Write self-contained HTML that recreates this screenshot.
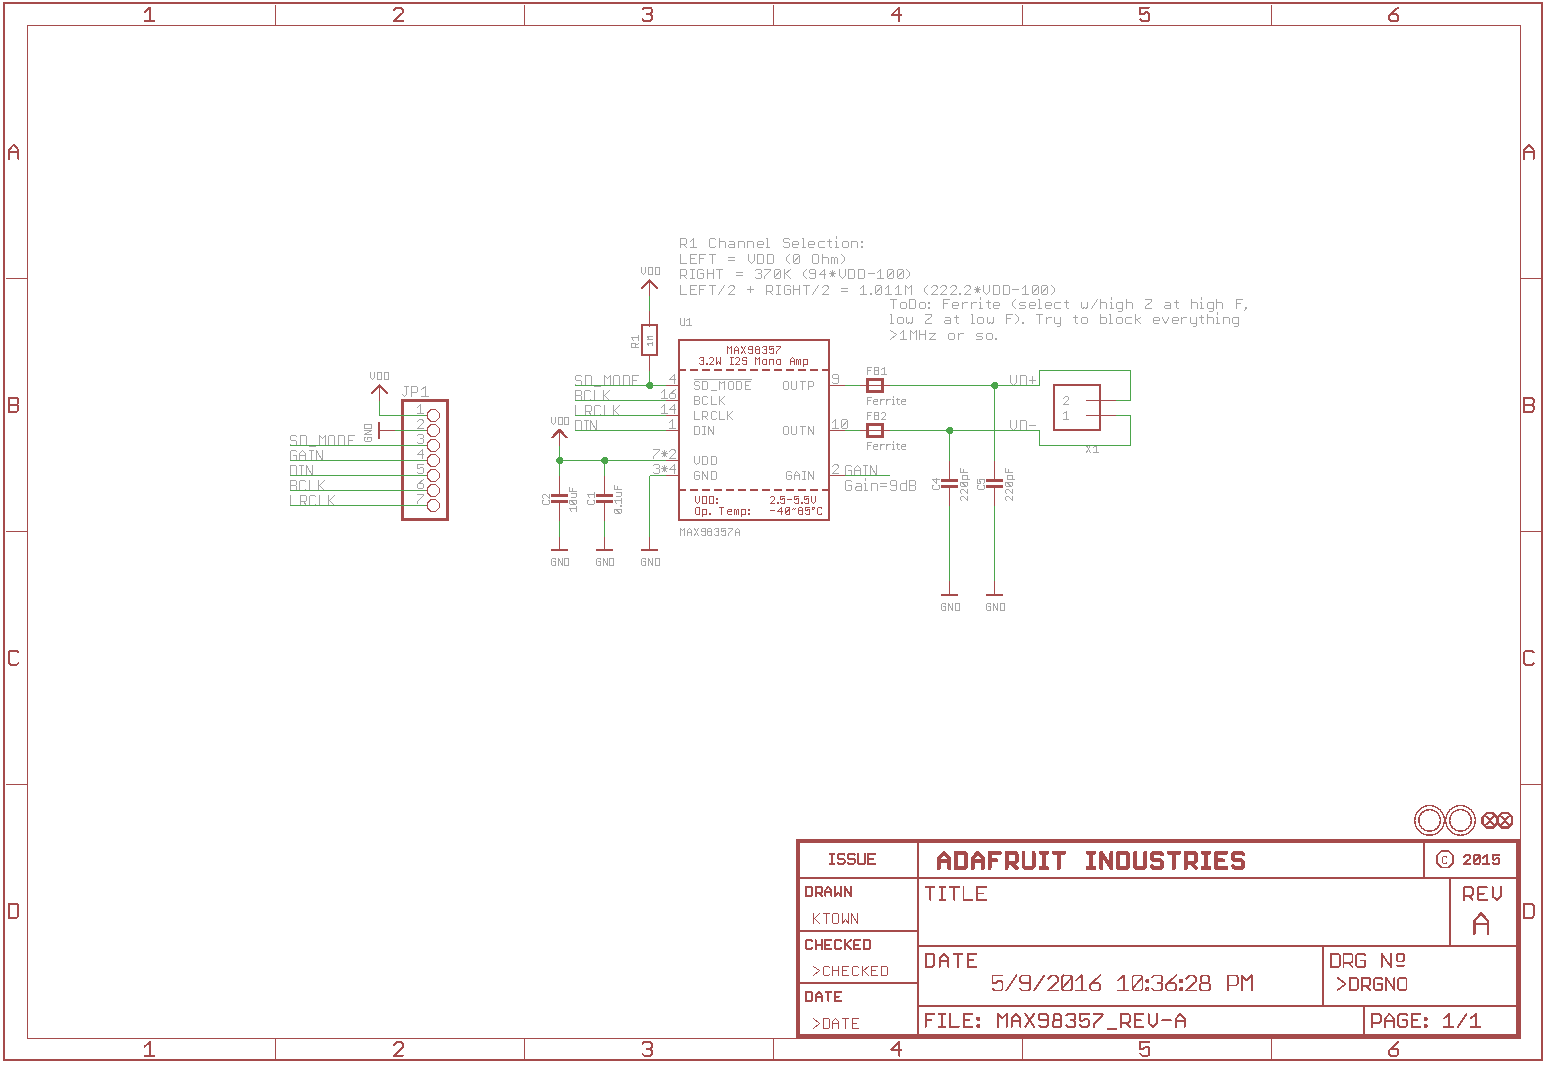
<!DOCTYPE html>
<html><head><meta charset="utf-8"><style>
html,body{margin:0;padding:0;background:#fff;}
body{width:1545px;height:1065px;overflow:hidden;font-family:"Liberation Sans",sans-serif;}
svg{display:block;}
</style></head><body>
<svg width="1545" height="1065" viewBox="0 0 1545 1065" shape-rendering="crispEdges">
<rect x="0" y="0" width="1545" height="1065" fill="#fff"/>
<path d="M144.72 12 L149.97 7.5 L149.97 21 M144.72 21 L154.17 21" stroke="#a54b4b" stroke-width="2" fill="none" stroke-linecap="round" stroke-linejoin="round"/>
<path d="M144.72 1046.57 L150.04 1042 L150.04 1055.7 M144.72 1055.7 L154.31 1055.7" stroke="#a54b4b" stroke-width="2" fill="none" stroke-linecap="round" stroke-linejoin="round"/>
<path d="M393.8 10.5 L396.8 7.5 L400.55 7.5 L402.8 9.75 L402.8 12.75 L393.8 21 L402.8 21" stroke="#a54b4b" stroke-width="2" fill="none" stroke-linecap="round" stroke-linejoin="round"/>
<path d="M393.8 1045.04 L396.84 1042 L400.65 1042 L402.93 1044.28 L402.93 1047.33 L393.8 1055.7 L402.93 1055.7" stroke="#a54b4b" stroke-width="2" fill="none" stroke-linecap="round" stroke-linejoin="round"/>
<path d="M642.63 9 L644.13 7.5 L650.13 7.5 L651.63 9 L651.63 12.75 L650.13 14.25 L651.63 15.75 L651.63 19.5 L650.13 21 L644.13 21 L642.63 19.5 M650.13 14.25 L647.13 14.25" stroke="#a54b4b" stroke-width="2" fill="none" stroke-linecap="round" stroke-linejoin="round"/>
<path d="M642.63 1043.52 L644.16 1042 L650.24 1042 L651.77 1043.52 L651.77 1047.33 L650.24 1048.85 L651.77 1050.37 L651.77 1054.18 L650.24 1055.7 L644.16 1055.7 L642.63 1054.18 M650.24 1048.85 L647.2 1048.85" stroke="#a54b4b" stroke-width="2" fill="none" stroke-linecap="round" stroke-linejoin="round"/>
<path d="M898.97 21 L898.97 7.5 L891.47 15 L901.22 15" stroke="#a54b4b" stroke-width="2" fill="none" stroke-linecap="round" stroke-linejoin="round"/>
<path d="M899.08 1055.7 L899.08 1042 L891.47 1049.61 L901.36 1049.61" stroke="#a54b4b" stroke-width="2" fill="none" stroke-linecap="round" stroke-linejoin="round"/>
<path d="M1149.3 7.5 L1140.3 7.5 L1140.3 14.4 L1143.3 14.4 L1145.55 12.3 L1147.5 12.3 L1149.3 14.1 L1149.3 19.5 L1147.8 21 L1142.1 21 L1140.3 19.2" stroke="#a54b4b" stroke-width="2" fill="none" stroke-linecap="round" stroke-linejoin="round"/>
<path d="M1149.43 1042 L1140.3 1042 L1140.3 1049 L1143.34 1049 L1145.63 1046.87 L1147.61 1046.87 L1149.43 1048.7 L1149.43 1054.18 L1147.91 1055.7 L1142.13 1055.7 L1140.3 1053.87" stroke="#a54b4b" stroke-width="2" fill="none" stroke-linecap="round" stroke-linejoin="round"/>
<path d="M1398.13 7.5 L1390.63 14.25 L1389.13 15.75 L1389.13 19.5 L1390.63 21 L1396.63 21 L1398.13 19.5 L1398.13 15.75 L1396.63 14.25 L1390.63 14.25" stroke="#a54b4b" stroke-width="2" fill="none" stroke-linecap="round" stroke-linejoin="round"/>
<path d="M1398.27 1042 L1390.66 1048.85 L1389.13 1050.37 L1389.13 1054.18 L1390.66 1055.7 L1396.74 1055.7 L1398.27 1054.18 L1398.27 1050.37 L1396.74 1048.85 L1390.66 1048.85" stroke="#a54b4b" stroke-width="2" fill="none" stroke-linecap="round" stroke-linejoin="round"/>
<path d="M9 158.8 L9 149.78 L13.67 144.8 L18.33 149.78 L18.33 158.8 M9 152.27 L18.33 152.27" stroke="#a54b4b" stroke-width="2" fill="none" stroke-linecap="round" stroke-linejoin="round"/>
<path d="M1524.2 158.8 L1524.2 149.78 L1528.87 144.8 L1533.53 149.78 L1533.53 158.8 M1524.2 152.27 L1533.53 152.27" stroke="#a54b4b" stroke-width="2" fill="none" stroke-linecap="round" stroke-linejoin="round"/>
<path d="M9 404.8 L16.78 404.8 L18.33 403.24 L18.33 399.36 L16.78 397.8 L9 397.8 L9 411.8 L16.78 411.8 L18.33 410.24 L18.33 406.36 L16.78 404.8" stroke="#a54b4b" stroke-width="2" fill="none" stroke-linecap="round" stroke-linejoin="round"/>
<path d="M1524.2 404.8 L1531.98 404.8 L1533.53 403.24 L1533.53 399.36 L1531.98 397.8 L1524.2 397.8 L1524.2 411.8 L1531.98 411.8 L1533.53 410.24 L1533.53 406.36 L1531.98 404.8" stroke="#a54b4b" stroke-width="2" fill="none" stroke-linecap="round" stroke-linejoin="round"/>
<path d="M18.33 652.36 L16.78 650.8 L10.56 650.8 L9 652.36 L9 663.24 L10.56 664.8 L16.78 664.8 L18.33 663.24" stroke="#a54b4b" stroke-width="2" fill="none" stroke-linecap="round" stroke-linejoin="round"/>
<path d="M1533.53 652.36 L1531.98 650.8 L1525.76 650.8 L1524.2 652.36 L1524.2 663.24 L1525.76 664.8 L1531.98 664.8 L1533.53 663.24" stroke="#a54b4b" stroke-width="2" fill="none" stroke-linecap="round" stroke-linejoin="round"/>
<path d="M9 903.8 L16.78 903.8 L18.33 905.36 L18.33 916.24 L16.78 917.8 L9 917.8 L9 903.8" stroke="#a54b4b" stroke-width="2" fill="none" stroke-linecap="round" stroke-linejoin="round"/>
<path d="M1524.2 903.8 L1531.98 903.8 L1533.53 905.36 L1533.53 916.24 L1531.98 917.8 L1524.2 917.8 L1524.2 903.8" stroke="#a54b4b" stroke-width="2" fill="none" stroke-linecap="round" stroke-linejoin="round"/>
<path d="M829.9 853.8 L834.39 853.8 M832.14 853.8 L832.14 863.9 M829.9 863.9 L834.39 863.9 M844.54 854.92 L843.42 853.8 L838.93 853.8 L837.81 854.92 L837.81 857.73 L838.93 858.85 L843.42 858.85 L844.54 859.97 L844.54 862.78 L843.42 863.9 L838.93 863.9 L837.81 862.78 M854.69 854.92 L853.57 853.8 L849.08 853.8 L847.96 854.92 L847.96 857.73 L849.08 858.85 L853.57 858.85 L854.69 859.97 L854.69 862.78 L853.57 863.9 L849.08 863.9 L847.96 862.78 M858.11 853.8 L858.11 862.78 L859.24 863.9 L863.73 863.9 L864.85 862.78 L864.85 853.8 M875 853.8 L868.27 853.8 L868.27 863.9 L875 863.9 M868.27 858.85 L872.76 858.85" stroke="#a54b4b" stroke-width="2" fill="none" stroke-linecap="round" stroke-linejoin="round"/>
<path d="M938.95 868.05 L938.95 858.22 L944.03 852.8 L949.12 858.22 L949.12 868.05 M938.95 860.93 L949.12 860.93 M955.86 852.8 L964.33 852.8 L966.02 854.49 L966.02 866.36 L964.33 868.05 L955.86 868.05 L955.86 852.8 M972.76 868.05 L972.76 858.22 L977.84 852.8 L982.93 858.22 L982.93 868.05 M972.76 860.93 L982.93 860.93 M999.83 852.8 L989.67 852.8 L989.67 868.05 M989.67 860.42 L996.44 860.42 M1006.57 868.05 L1006.57 852.8 L1015.04 852.8 L1016.74 854.49 L1016.74 861.27 L1015.04 862.97 L1006.57 862.97 M1011.66 862.97 L1016.74 868.05 M1023.48 852.8 L1023.48 866.36 L1025.17 868.05 L1031.95 868.05 L1033.64 866.36 L1033.64 852.8 M1040.38 852.8 L1047.16 852.8 M1043.77 852.8 L1043.77 868.05 M1040.38 868.05 L1047.16 868.05 M1053.9 852.8 L1064.07 852.8 M1058.98 852.8 L1058.98 868.05 M1087.71 852.8 L1094.49 852.8 M1091.1 852.8 L1091.1 868.05 M1087.71 868.05 L1094.49 868.05 M1101.23 868.05 L1101.23 852.8 L1111.39 868.05 L1111.39 852.8 M1118.13 852.8 L1126.61 852.8 L1128.3 854.49 L1128.3 866.36 L1126.61 868.05 L1118.13 868.05 L1118.13 852.8 M1135.04 852.8 L1135.04 866.36 L1136.73 868.05 L1143.51 868.05 L1145.21 866.36 L1145.21 852.8 M1162.11 854.49 L1160.42 852.8 L1153.64 852.8 L1151.94 854.49 L1151.94 858.73 L1153.64 860.42 L1160.42 860.42 L1162.11 862.12 L1162.11 866.36 L1160.42 868.05 L1153.64 868.05 L1151.94 866.36 M1168.85 852.8 L1179.02 852.8 M1173.93 852.8 L1173.93 868.05 M1185.76 868.05 L1185.76 852.8 L1194.23 852.8 L1195.92 854.49 L1195.92 861.27 L1194.23 862.97 L1185.76 862.97 M1190.84 862.97 L1195.92 868.05 M1202.66 852.8 L1209.44 852.8 M1206.05 852.8 L1206.05 868.05 M1202.66 868.05 L1209.44 868.05 M1226.34 852.8 L1216.18 852.8 L1216.18 868.05 L1226.34 868.05 M1216.18 860.42 L1222.96 860.42 M1243.25 854.49 L1241.56 852.8 L1234.78 852.8 L1233.08 854.49 L1233.08 858.73 L1234.78 860.42 L1241.56 860.42 L1243.25 862.12 L1243.25 866.36 L1241.56 868.05 L1234.78 868.05 L1233.08 866.36" stroke="#a54b4b" stroke-width="3.9" fill="none" stroke-linecap="round" stroke-linejoin="round"/>
<path d="M1446.5 857.5 L1446.5 856.5 L1443.5 856.5 L1442.5 857.5 L1442.5 862.5 L1443.5 863.5 L1446.5 863.5 L1446.5 862.5" stroke="#a54b4b" stroke-width="1" fill="none" stroke-linecap="square" stroke-linejoin="miter" stroke-miterlimit="2"/>
<path d="M1464 856.92 L1466.02 854.9 L1468.55 854.9 L1470.07 856.42 L1470.07 858.44 L1464 864 L1470.07 864 M1474.55 854.9 L1478.6 854.9 L1479.61 855.91 L1479.61 862.99 L1478.6 864 L1474.55 864 L1473.54 862.99 L1473.54 855.91 L1474.55 854.9 M1473.54 862.99 L1479.61 855.91 M1483.09 857.93 L1486.63 854.9 L1486.63 864 M1483.09 864 L1489.46 864 M1499 854.9 L1492.93 854.9 L1492.93 859.55 L1494.96 859.55 L1496.47 858.14 L1497.79 858.14 L1499 859.35 L1499 862.99 L1497.99 864 L1494.15 864 L1492.93 862.79" stroke="#a54b4b" stroke-width="2" fill="none" stroke-linecap="round" stroke-linejoin="round"/>
<path d="M806 886.9 L811.06 886.9 L812.07 887.91 L812.07 894.99 L811.06 896 L806 896 L806 886.9 M815.68 896 L815.68 886.9 L820.74 886.9 L821.75 887.91 L821.75 891.96 L820.74 892.97 L815.68 892.97 M818.72 892.97 L821.75 896 M825.37 896 L825.37 890.14 L828.4 886.9 L831.43 890.14 L831.43 896 M825.37 891.75 L831.43 891.75 M835.05 886.9 L835.05 896 L838.08 892.46 L841.12 896 L841.12 886.9 M844.73 896 L844.73 886.9 L850.8 896 L850.8 886.9" stroke="#a54b4b" stroke-width="2" fill="none" stroke-linecap="round" stroke-linejoin="round"/>
<path d="M813.5 913.5 L813.5 923.5 M819.5 913.5 L813.5 919.5 M814.5 918.5 L819.5 923.5 M823.5 913.5 L829.5 913.5 M826.5 913.5 L826.5 923.5 M833.5 913.5 L837.5 913.5 L838.5 914.5 L838.5 922.5 L837.5 923.5 L833.5 923.5 L832.5 922.5 L832.5 914.5 L833.5 913.5 M842.5 913.5 L842.5 923.5 L845.5 919.5 L848.5 923.5 L848.5 913.5 M851.5 923.5 L851.5 913.5 L857.5 923.5 L857.5 913.5" stroke="#a54b4b" stroke-width="1" fill="none" stroke-linecap="square" stroke-linejoin="miter" stroke-miterlimit="2"/>
<path d="M812.07 941.01 L811.06 940 L807.01 940 L806 941.01 L806 948.09 L807.01 949.1 L811.06 949.1 L812.07 948.09 M815.67 940 L815.67 949.1 M821.74 940 L821.74 949.1 M815.67 944.55 L821.74 944.55 M831.41 940 L825.34 940 L825.34 949.1 L831.41 949.1 M825.34 944.55 L829.39 944.55 M841.08 941.01 L840.07 940 L836.03 940 L835.02 941.01 L835.02 948.09 L836.03 949.1 L840.07 949.1 L841.08 948.09 M844.69 940 L844.69 949.1 M850.76 940 L844.69 945.56 M846.21 944.55 L850.76 949.1 M860.43 940 L854.36 940 L854.36 949.1 L860.43 949.1 M854.36 944.55 L858.41 944.55 M864.03 940 L869.09 940 L870.1 941.01 L870.1 948.09 L869.09 949.1 L864.03 949.1 L864.03 940" stroke="#a54b4b" stroke-width="2" fill="none" stroke-linecap="round" stroke-linejoin="round"/>
<path d="M813.5 966.5 L819.5 970.5 L813.5 975.5 M829.5 967.5 L828.5 966.5 L824.5 966.5 L823.5 967.5 L823.5 974.5 L824.5 975.5 L828.5 975.5 L829.5 974.5 M832.5 966.5 L832.5 975.5 M838.5 966.5 L838.5 975.5 M832.5 970.5 L838.5 970.5 M848.5 966.5 L842.5 966.5 L842.5 975.5 L848.5 975.5 M842.5 970.5 L846.5 970.5 M858.5 967.5 L857.5 966.5 L853.5 966.5 L852.5 967.5 L852.5 974.5 L853.5 975.5 L857.5 975.5 L858.5 974.5 M862.5 966.5 L862.5 975.5 M868.5 966.5 L862.5 971.5 M863.5 970.5 L868.5 975.5 M877.5 966.5 L871.5 966.5 L871.5 975.5 L877.5 975.5 M871.5 970.5 L875.5 970.5 M881.5 966.5 L886.5 966.5 L887.5 967.5 L887.5 974.5 L886.5 975.5 L881.5 975.5 L881.5 966.5" stroke="#a54b4b" stroke-width="1" fill="none" stroke-linecap="square" stroke-linejoin="miter" stroke-miterlimit="2"/>
<path d="M806 992 L811.06 992 L812.07 993.01 L812.07 1000.09 L811.06 1001.1 L806 1001.1 L806 992 M815.71 1001.1 L815.71 995.24 L818.74 992 L821.78 995.24 L821.78 1001.1 M815.71 996.85 L821.78 996.85 M825.42 992 L831.49 992 M828.46 992 L828.46 1001.1 M841.2 992 L835.13 992 L835.13 1001.1 L841.2 1001.1 M835.13 996.55 L839.18 996.55" stroke="#a54b4b" stroke-width="2" fill="none" stroke-linecap="round" stroke-linejoin="round"/>
<path d="M813.5 1018.5 L819.5 1023.5 L813.5 1028.5 M823.5 1018.5 L828.5 1018.5 L829.5 1019.5 L829.5 1027.5 L828.5 1028.5 L823.5 1028.5 L823.5 1018.5 M832.5 1028.5 L832.5 1021.5 L835.5 1018.5 L838.5 1021.5 L838.5 1028.5 M832.5 1023.5 L838.5 1023.5 M842.5 1018.5 L848.5 1018.5 M845.5 1018.5 L845.5 1028.5 M858.5 1018.5 L852.5 1018.5 L852.5 1028.5 L858.5 1028.5 M852.5 1023.5 L856.5 1023.5" stroke="#a54b4b" stroke-width="1" fill="none" stroke-linecap="square" stroke-linejoin="miter" stroke-miterlimit="2"/>
<path d="M925.95 886.95 L934.68 886.95 M930.32 886.95 L930.32 900.05 M939.44 886.95 L945.27 886.95 M942.36 886.95 L942.36 900.05 M939.44 900.05 L945.27 900.05 M950.03 886.95 L958.76 886.95 M954.39 886.95 L954.39 900.05 M963.52 886.95 L963.52 900.05 L972.26 900.05 M985.75 886.95 L977.02 886.95 L977.02 900.05 L985.75 900.05 M977.02 893.5 L982.84 893.5" stroke="#a54b4b" stroke-width="1.9" fill="none" stroke-linecap="round" stroke-linejoin="round"/>
<path d="M1464.2 899.9 L1464.2 887.3 L1471.2 887.3 L1472.6 888.7 L1472.6 894.3 L1471.2 895.7 L1464.2 895.7 M1468.4 895.7 L1472.6 899.9 M1486.85 887.3 L1478.45 887.3 L1478.45 899.9 L1486.85 899.9 M1478.45 893.6 L1484.05 893.6 M1492.7 887.3 L1492.7 896.4 L1496.9 899.9 L1501.1 896.4 L1501.1 887.3" stroke="#a54b4b" stroke-width="2" fill="none" stroke-linecap="round" stroke-linejoin="round"/>
<path d="M1474.35 933.65 L1474.35 920.63 L1481.08 913.45 L1487.82 920.63 L1487.82 933.65 M1474.35 924.22 L1487.82 924.22" stroke="#a54b4b" stroke-width="2.3" fill="none" stroke-linecap="round" stroke-linejoin="round"/>
<path d="M925.5 953.9 L932.61 953.9 L934.03 955.32 L934.03 965.28 L932.61 966.7 L925.5 966.7 L925.5 953.9 M939.59 966.7 L939.59 958.45 L943.86 953.9 L948.12 958.45 L948.12 966.7 M939.59 960.73 L948.12 960.73 M953.68 953.9 L962.21 953.9 M957.94 953.9 L957.94 966.7 M976.3 953.9 L967.77 953.9 L967.77 966.7 L976.3 966.7 M967.77 960.3 L973.46 960.3" stroke="#a54b4b" stroke-width="2" fill="none" stroke-linecap="round" stroke-linejoin="round"/>
<path d="M1002.57 975.4 L992.5 975.4 L992.5 983.12 L995.86 983.12 L998.37 980.77 L1000.55 980.77 L1002.57 982.78 L1002.57 988.82 L1000.89 990.5 L994.51 990.5 L992.5 988.49 M1006.39 990.5 L1016.46 975.4 M1030.35 982.95 L1021.96 982.95 L1020.28 981.27 L1020.28 977.08 L1021.96 975.4 L1028.67 975.4 L1030.35 977.08 L1030.35 988.82 L1028.67 990.5 L1021.96 990.5 L1020.28 988.82 M1034.17 990.5 L1044.23 975.4 M1048.06 978.76 L1051.41 975.4 L1055.61 975.4 L1058.12 977.92 L1058.12 981.27 L1048.06 990.5 L1058.12 990.5 M1063.62 975.4 L1070.34 975.4 L1072.01 977.08 L1072.01 988.82 L1070.34 990.5 L1063.62 990.5 L1061.95 988.82 L1061.95 977.08 L1063.62 975.4 M1061.95 988.82 L1072.01 977.08 M1075.84 980.43 L1081.71 975.4 L1081.71 990.5 M1075.84 990.5 L1086.41 990.5 M1100.3 975.4 L1091.91 982.95 L1090.23 984.63 L1090.23 988.82 L1091.91 990.5 L1098.62 990.5 L1100.3 988.82 L1100.3 984.63 L1098.62 982.95 L1091.91 982.95 M1118.01 980.43 L1123.88 975.4 L1123.88 990.5 M1118.01 990.5 L1128.58 990.5 M1134.08 975.4 L1140.79 975.4 L1142.47 977.08 L1142.47 988.82 L1140.79 990.5 L1134.08 990.5 L1132.4 988.82 L1132.4 977.08 L1134.08 975.4 M1132.4 988.82 L1142.47 977.08 M1146.29 979.93 L1148.47 979.93 L1148.47 982.11 L1146.29 982.11 L1146.29 979.93 M1146.29 988.32 L1148.47 988.32 L1148.47 990.5 L1146.29 990.5 L1146.29 988.32 M1152.29 977.08 L1153.97 975.4 L1160.68 975.4 L1162.36 977.08 L1162.36 981.27 L1160.68 982.95 L1162.36 984.63 L1162.36 988.82 L1160.68 990.5 L1153.97 990.5 L1152.29 988.82 M1160.68 982.95 L1157.33 982.95 M1176.25 975.4 L1167.86 982.95 L1166.18 984.63 L1166.18 988.82 L1167.86 990.5 L1174.57 990.5 L1176.25 988.82 L1176.25 984.63 L1174.57 982.95 L1167.86 982.95 M1180.07 979.93 L1182.25 979.93 L1182.25 982.11 L1180.07 982.11 L1180.07 979.93 M1180.07 988.32 L1182.25 988.32 L1182.25 990.5 L1180.07 990.5 L1180.07 988.32 M1186.08 978.76 L1189.43 975.4 L1193.63 975.4 L1196.14 977.92 L1196.14 981.27 L1186.08 990.5 L1196.14 990.5 M1202.48 982.95 L1200.8 981.27 L1200.8 977.08 L1202.48 975.4 L1207.52 975.4 L1209.19 977.08 L1209.19 981.27 L1207.52 982.95 L1201.64 982.95 L1199.97 984.63 L1199.97 988.82 L1201.64 990.5 L1208.35 990.5 L1210.03 988.82 L1210.03 984.63 L1208.35 982.95 L1207.52 982.95 M1227.74 990.5 L1227.74 975.4 L1236.13 975.4 L1237.81 977.08 L1237.81 983.79 L1236.13 985.47 L1227.74 985.47 M1241.63 990.5 L1241.63 975.4 L1246.67 980.43 L1251.7 975.4 L1251.7 990.5" stroke="#a54b4b" stroke-width="1.8" fill="none" stroke-linecap="round" stroke-linejoin="round"/>
<path d="M1330.88 953.77 L1338.35 953.77 L1339.84 955.27 L1339.84 965.73 L1338.35 967.23 L1330.88 967.23 L1330.88 953.77 M1343.58 967.23 L1343.58 953.77 L1351.06 953.77 L1352.55 955.27 L1352.55 961.25 L1351.06 962.74 L1343.58 962.74 M1348.07 962.74 L1352.55 967.23 M1365.26 955.27 L1363.76 953.77 L1357.79 953.77 L1356.29 955.27 L1356.29 965.73 L1357.79 967.23 L1363.76 967.23 L1365.26 965.73 L1365.26 960.5 L1360.77 960.5 M1381.71 967.23 L1381.71 953.77 L1391.12 967.23 L1391.12 953.77 M1398.15 953.77 L1402.63 953.77 L1404.12 955.27 L1404.12 960.05 L1402.63 961.55 L1398.15 961.55 L1396.65 960.05 L1396.65 955.27 L1398.15 953.77 M1396.95 965.73 L1404.12 965.73" stroke="#a54b4b" stroke-width="1.75" fill="none" stroke-linecap="round" stroke-linejoin="round"/>
<path d="M1337.58 977.88 L1345.74 984 L1337.58 990.12 M1349.73 977.88 L1356.54 977.88 L1357.9 979.24 L1357.9 988.76 L1356.54 990.12 L1349.73 990.12 L1349.73 977.88 M1361.89 990.12 L1361.89 977.88 L1368.69 977.88 L1370.06 979.24 L1370.06 984.68 L1368.69 986.04 L1361.89 986.04 M1365.97 986.04 L1370.06 990.12 M1382.21 979.24 L1380.85 977.88 L1375.41 977.88 L1374.05 979.24 L1374.05 988.76 L1375.41 990.12 L1380.85 990.12 L1382.21 988.76 L1382.21 984 L1378.13 984 M1386.2 990.12 L1386.2 977.88 L1394.37 990.12 L1394.37 977.88 M1399.72 977.88 L1405.16 977.88 L1406.53 979.24 L1406.53 988.76 L1405.16 990.12 L1399.72 990.12 L1398.36 988.76 L1398.36 979.24 L1399.72 977.88" stroke="#a54b4b" stroke-width="1.75" fill="none" stroke-linecap="round" stroke-linejoin="round"/>
<path d="M934.17 1013.9 L925.5 1013.9 L925.5 1026.9 M925.5 1020.4 L931.28 1020.4 M939.2 1013.9 L944.97 1013.9 M942.08 1013.9 L942.08 1026.9 M939.2 1026.9 L944.97 1026.9 M950 1013.9 L950 1026.9 L958.67 1026.9 M972.36 1013.9 L963.7 1013.9 L963.7 1026.9 L972.36 1026.9 M963.7 1020.4 L969.47 1020.4 M977.39 1017.8 L979.27 1017.8 L979.27 1019.68 L977.39 1019.68 L977.39 1017.8 M977.39 1025.02 L979.27 1025.02 L979.27 1026.9 L977.39 1026.9 L977.39 1025.02 M997.99 1026.9 L997.99 1013.9 L1002.33 1018.23 L1006.66 1013.9 L1006.66 1026.9 M1011.69 1026.9 L1011.69 1018.52 L1016.02 1013.9 L1020.36 1018.52 L1020.36 1026.9 M1011.69 1020.83 L1020.36 1020.83 M1025.38 1013.9 L1034.05 1026.9 M1034.05 1013.9 L1025.38 1026.9 M1047.75 1020.4 L1040.52 1020.4 L1039.08 1018.96 L1039.08 1015.34 L1040.52 1013.9 L1046.3 1013.9 L1047.75 1015.34 L1047.75 1025.46 L1046.3 1026.9 L1040.52 1026.9 L1039.08 1025.46 M1054.94 1020.4 L1053.5 1018.96 L1053.5 1015.34 L1054.94 1013.9 L1059.28 1013.9 L1060.72 1015.34 L1060.72 1018.96 L1059.28 1020.4 L1054.22 1020.4 L1052.78 1021.84 L1052.78 1025.46 L1054.22 1026.9 L1060 1026.9 L1061.44 1025.46 L1061.44 1021.84 L1060 1020.4 L1059.28 1020.4 M1066.47 1015.34 L1067.92 1013.9 L1073.69 1013.9 L1075.14 1015.34 L1075.14 1018.96 L1073.69 1020.4 L1075.14 1021.84 L1075.14 1025.46 L1073.69 1026.9 L1067.92 1026.9 L1066.47 1025.46 M1073.69 1020.4 L1070.8 1020.4 M1088.83 1013.9 L1080.17 1013.9 L1080.17 1020.54 L1083.05 1020.54 L1085.22 1018.52 L1087.1 1018.52 L1088.83 1020.26 L1088.83 1025.46 L1087.39 1026.9 L1081.9 1026.9 L1080.17 1025.17 M1093.86 1013.9 L1102.53 1013.9 L1102.53 1015.34 L1093.86 1024.01 L1093.86 1026.9 M1107.56 1029.07 L1116.22 1029.07 M1121.25 1026.9 L1121.25 1013.9 L1128.47 1013.9 L1129.92 1015.34 L1129.92 1021.12 L1128.47 1022.57 L1121.25 1022.57 M1125.59 1022.57 L1129.92 1026.9 M1143.61 1013.9 L1134.95 1013.9 L1134.95 1026.9 L1143.61 1026.9 M1134.95 1020.4 L1140.73 1020.4 M1148.64 1013.9 L1148.64 1023.29 L1152.98 1026.9 L1157.31 1023.29 L1157.31 1013.9 M1162.34 1020.4 L1171 1020.4 M1176.03 1026.9 L1176.03 1018.52 L1180.37 1013.9 L1184.7 1018.52 L1184.7 1026.9 M1176.03 1020.83 L1184.7 1020.83" stroke="#a54b4b" stroke-width="2" fill="none" stroke-linecap="round" stroke-linejoin="round"/>
<path d="M1372 1026.9 L1372 1013.9 L1379.22 1013.9 L1380.67 1015.34 L1380.67 1021.12 L1379.22 1022.57 L1372 1022.57 M1385.17 1026.9 L1385.17 1018.52 L1389.5 1013.9 L1393.84 1018.52 L1393.84 1026.9 M1385.17 1020.83 L1393.84 1020.83 M1407.01 1015.34 L1405.56 1013.9 L1399.78 1013.9 L1398.34 1015.34 L1398.34 1025.46 L1399.78 1026.9 L1405.56 1026.9 L1407.01 1025.46 L1407.01 1020.4 L1402.67 1020.4 M1420.17 1013.9 L1411.51 1013.9 L1411.51 1026.9 L1420.17 1026.9 M1411.51 1020.4 L1417.29 1020.4 M1424.68 1017.8 L1426.56 1017.8 L1426.56 1019.68 L1424.68 1019.68 L1424.68 1017.8 M1424.68 1025.02 L1426.56 1025.02 L1426.56 1026.9 L1424.68 1026.9 L1424.68 1025.02 M1444.23 1018.23 L1449.28 1013.9 L1449.28 1026.9 M1444.23 1026.9 L1453.33 1026.9 M1457.83 1026.9 L1466.5 1013.9 M1471 1018.23 L1476.06 1013.9 L1476.06 1026.9 M1471 1026.9 L1480.1 1026.9" stroke="#a54b4b" stroke-width="2" fill="none" stroke-linecap="round" stroke-linejoin="round"/>
<path d="M417.5 407.5 L420.5 404.5 L420.5 413.5 M417.5 413.5 L423.5 413.5" stroke="#a5a5a5" stroke-width="1" fill="none" stroke-linecap="square" stroke-linejoin="miter" stroke-miterlimit="2"/>
<path d="M417.5 421.5 L419.5 419.5 L421.5 419.5 L423.5 420.5 L423.5 422.5 L417.5 428.5 L423.5 428.5" stroke="#a5a5a5" stroke-width="1" fill="none" stroke-linecap="square" stroke-linejoin="miter" stroke-miterlimit="2"/>
<path d="M417.5 435.5 L418.5 434.5 L422.5 434.5 L423.5 435.5 L423.5 437.5 L422.5 438.5 L423.5 439.5 L423.5 442.5 L422.5 443.5 L418.5 443.5 L417.5 442.5 M422.5 438.5 L420.5 438.5" stroke="#a5a5a5" stroke-width="1" fill="none" stroke-linecap="square" stroke-linejoin="miter" stroke-miterlimit="2"/>
<path d="M422.5 458.5 L422.5 449.5 L417.5 454.5 L423.5 454.5" stroke="#a5a5a5" stroke-width="1" fill="none" stroke-linecap="square" stroke-linejoin="miter" stroke-miterlimit="2"/>
<path d="M423.5 464.5 L417.5 464.5 L417.5 468.5 L419.5 468.5 L420.5 467.5 L422.5 467.5 L423.5 468.5 L423.5 472.5 L422.5 473.5 L418.5 473.5 L417.5 472.5" stroke="#a5a5a5" stroke-width="1" fill="none" stroke-linecap="square" stroke-linejoin="miter" stroke-miterlimit="2"/>
<path d="M423.5 479.5 L418.5 483.5 L417.5 484.5 L417.5 487.5 L418.5 488.5 L422.5 488.5 L423.5 487.5 L423.5 484.5 L422.5 483.5 L418.5 483.5" stroke="#a5a5a5" stroke-width="1" fill="none" stroke-linecap="square" stroke-linejoin="miter" stroke-miterlimit="2"/>
<path d="M417.5 494.5 L423.5 494.5 L423.5 495.5 L417.5 501.5 L417.5 503.5" stroke="#a5a5a5" stroke-width="1" fill="none" stroke-linecap="square" stroke-linejoin="miter" stroke-miterlimit="2"/>
<path d="M370.5 372.5 L370.5 377.5 L372.5 379.5 L374.5 377.5 L374.5 372.5 M377.5 372.5 L381.5 372.5 L381.5 373.5 L381.5 378.5 L381.5 379.5 L377.5 379.5 L377.5 372.5 M384.5 372.5 L388.5 372.5 L388.5 373.5 L388.5 378.5 L388.5 379.5 L384.5 379.5 L384.5 372.5" stroke="#a5a5a5" stroke-width="1" fill="none" stroke-linecap="square" stroke-linejoin="miter" stroke-miterlimit="2"/>
<path d="M365.5 437.5 L364.5 437.5 L364.5 440.5 L365.5 441.5 L370.5 441.5 L371.5 440.5 L371.5 437.5 L370.5 437.5 L367.5 437.5 L367.5 439.5 M371.5 434.5 L364.5 434.5 L371.5 430.5 L364.5 430.5 M364.5 428.5 L364.5 424.5 L365.5 424.5 L370.5 424.5 L371.5 424.5 L371.5 428.5 L364.5 428.5" stroke="#a5a5a5" stroke-width="1" fill="none" stroke-linecap="square" stroke-linejoin="miter" stroke-miterlimit="2"/>
<path d="M404.5 386.5 L408.5 386.5 M406.5 386.5 L406.5 394.5 L404.5 396.5 L402.5 394.5 M411.5 396.5 L411.5 386.5 L416.5 386.5 L417.5 387.5 L417.5 391.5 L416.5 392.5 L411.5 392.5 M421.5 389.5 L425.5 386.5 L425.5 396.5 M421.5 396.5 L428.5 396.5" stroke="#a5a5a5" stroke-width="1" fill="none" stroke-linecap="square" stroke-linejoin="miter" stroke-miterlimit="2"/>
<path d="M296.5 436.5 L295.5 435.5 L291.5 435.5 L290.5 436.5 L290.5 439.5 L291.5 440.5 L295.5 440.5 L296.5 441.5 L296.5 444.5 L295.5 445.5 L291.5 445.5 L290.5 444.5 M300.5 435.5 L305.5 435.5 L306.5 436.5 L306.5 444.5 L305.5 445.5 L300.5 445.5 L300.5 435.5 M309.5 446.5 L315.5 446.5 M319.5 445.5 L319.5 435.5 L322.5 438.5 L325.5 435.5 L325.5 445.5 M329.5 435.5 L333.5 435.5 L334.5 436.5 L334.5 444.5 L333.5 445.5 L329.5 445.5 L328.5 444.5 L328.5 436.5 L329.5 435.5 M338.5 435.5 L343.5 435.5 L344.5 436.5 L344.5 444.5 L343.5 445.5 L338.5 445.5 L338.5 435.5 M354.5 435.5 L348.5 435.5 L348.5 445.5 L354.5 445.5 M348.5 440.5 L352.5 440.5" stroke="#a5a5a5" stroke-width="1" fill="none" stroke-linecap="square" stroke-linejoin="miter" stroke-miterlimit="2"/>
<path d="M296.5 451.5 L295.5 450.5 L291.5 450.5 L290.5 451.5 L290.5 459.5 L291.5 460.5 L295.5 460.5 L296.5 459.5 L296.5 455.5 L293.5 455.5 M299.5 460.5 L299.5 453.5 L302.5 450.5 L305.5 453.5 L305.5 460.5 M299.5 455.5 L305.5 455.5 M309.5 450.5 L313.5 450.5 M311.5 450.5 L311.5 460.5 M309.5 460.5 L313.5 460.5 M316.5 460.5 L316.5 450.5 L322.5 460.5 L322.5 450.5" stroke="#a5a5a5" stroke-width="1" fill="none" stroke-linecap="square" stroke-linejoin="miter" stroke-miterlimit="2"/>
<path d="M290.5 465.5 L295.5 465.5 L296.5 466.5 L296.5 474.5 L295.5 475.5 L290.5 475.5 L290.5 465.5 M299.5 465.5 L303.5 465.5 M301.5 465.5 L301.5 475.5 M299.5 475.5 L303.5 475.5 M306.5 475.5 L306.5 465.5 L312.5 475.5 L312.5 465.5" stroke="#a5a5a5" stroke-width="1" fill="none" stroke-linecap="square" stroke-linejoin="miter" stroke-miterlimit="2"/>
<path d="M290.5 485.5 L295.5 485.5 L296.5 484.5 L296.5 481.5 L295.5 480.5 L290.5 480.5 L290.5 490.5 L295.5 490.5 L296.5 489.5 L296.5 486.5 L295.5 485.5 M305.5 481.5 L304.5 480.5 L300.5 480.5 L299.5 481.5 L299.5 489.5 L300.5 490.5 L304.5 490.5 L305.5 489.5 M309.5 480.5 L309.5 490.5 L315.5 490.5 M318.5 480.5 L318.5 490.5 M324.5 480.5 L318.5 486.5 M319.5 485.5 L324.5 490.5" stroke="#a5a5a5" stroke-width="1" fill="none" stroke-linecap="square" stroke-linejoin="miter" stroke-miterlimit="2"/>
<path d="M290.5 495.5 L290.5 505.5 L296.5 505.5 M300.5 505.5 L300.5 495.5 L305.5 495.5 L306.5 496.5 L306.5 500.5 L305.5 501.5 L300.5 501.5 M303.5 501.5 L306.5 505.5 M315.5 496.5 L314.5 495.5 L310.5 495.5 L309.5 496.5 L309.5 504.5 L310.5 505.5 L314.5 505.5 L315.5 504.5 M319.5 495.5 L319.5 505.5 L325.5 505.5 M328.5 495.5 L328.5 505.5 M334.5 495.5 L328.5 501.5 M329.5 500.5 L334.5 505.5" stroke="#a5a5a5" stroke-width="1" fill="none" stroke-linecap="square" stroke-linejoin="miter" stroke-miterlimit="2"/>
<path d="M680.5 318.5 L680.5 324.5 L681.5 325.5 L684.5 325.5 L684.5 324.5 L684.5 318.5 M686.5 320.5 L689.5 318.5 L689.5 325.5 M686.5 325.5 L691.5 325.5" stroke="#a5a5a5" stroke-width="1" fill="none" stroke-linecap="square" stroke-linejoin="miter" stroke-miterlimit="2"/>
<path d="M727.5 353.5 L727.5 346.5 L729.5 348.5 L731.5 346.5 L731.5 353.5 M734.5 353.5 L734.5 348.5 L736.5 346.5 L738.5 348.5 L738.5 353.5 M734.5 350.5 L738.5 350.5 M741.5 346.5 L745.5 353.5 M745.5 346.5 L741.5 353.5 M752.5 349.5 L749.5 349.5 L748.5 349.5 L748.5 347.5 L749.5 346.5 L752.5 346.5 L752.5 347.5 L752.5 352.5 L752.5 353.5 L749.5 353.5 L748.5 352.5 M756.5 349.5 L755.5 349.5 L755.5 347.5 L756.5 346.5 L758.5 346.5 L759.5 347.5 L759.5 349.5 L758.5 349.5 L756.5 349.5 L755.5 350.5 L755.5 352.5 L756.5 353.5 L759.5 353.5 L759.5 352.5 L759.5 350.5 L759.5 349.5 L758.5 349.5 M762.5 347.5 L763.5 346.5 L766.5 346.5 L766.5 347.5 L766.5 349.5 L766.5 349.5 L766.5 350.5 L766.5 352.5 L766.5 353.5 L763.5 353.5 L762.5 352.5 M766.5 349.5 L764.5 349.5 M773.5 346.5 L769.5 346.5 L769.5 349.5 L770.5 349.5 L772.5 348.5 L773.5 348.5 L773.5 349.5 L773.5 352.5 L773.5 353.5 L770.5 353.5 L769.5 352.5 M776.5 346.5 L780.5 346.5 L780.5 347.5 L776.5 351.5 L776.5 353.5" stroke="#a54b4b" stroke-width="1" fill="none" stroke-linecap="square" stroke-linejoin="miter" stroke-miterlimit="2"/>
<path d="M699.5 358.5 L700.5 357.5 L703.5 357.5 L703.5 358.5 L703.5 360.5 L703.5 360.5 L703.5 361.5 L703.5 363.5 L703.5 364.5 L700.5 364.5 L699.5 363.5 M703.5 360.5 L701.5 360.5 M706.5 363.5 L707.5 363.5 L707.5 364.5 L706.5 364.5 L706.5 363.5 M709.5 358.5 L710.5 357.5 L712.5 357.5 L713.5 358.5 L713.5 360.5 L709.5 364.5 L713.5 364.5 M716.5 357.5 L716.5 364.5 L718.5 361.5 L720.5 364.5 L720.5 357.5 M730.5 357.5 L733.5 357.5 M731.5 357.5 L731.5 364.5 M730.5 364.5 L733.5 364.5 M735.5 358.5 L736.5 357.5 L738.5 357.5 L739.5 358.5 L739.5 360.5 L735.5 364.5 L739.5 364.5 M746.5 358.5 L746.5 357.5 L743.5 357.5 L742.5 358.5 L742.5 360.5 L743.5 360.5 L746.5 360.5 L746.5 361.5 L746.5 363.5 L746.5 364.5 L743.5 364.5 L742.5 363.5 M755.5 364.5 L755.5 357.5 L757.5 359.5 L759.5 357.5 L759.5 364.5 M763.5 359.5 L766.5 359.5 L766.5 360.5 L766.5 363.5 L766.5 364.5 L763.5 364.5 L762.5 363.5 L762.5 360.5 L763.5 359.5 M769.5 359.5 L769.5 364.5 M769.5 359.5 L773.5 359.5 L773.5 360.5 L773.5 364.5 M777.5 359.5 L780.5 359.5 L780.5 360.5 L780.5 363.5 L780.5 364.5 L777.5 364.5 L776.5 363.5 L776.5 360.5 L777.5 359.5 M790.5 364.5 L790.5 359.5 L792.5 357.5 L794.5 359.5 L794.5 364.5 M790.5 361.5 L794.5 361.5 M796.5 364.5 L796.5 359.5 L797.5 359.5 L798.5 360.5 L798.5 364.5 M798.5 360.5 L799.5 359.5 L800.5 359.5 L800.5 360.5 L800.5 364.5 M803.5 366.5 L803.5 359.5 L807.5 359.5 L807.5 360.5 L807.5 363.5 L807.5 364.5 L803.5 364.5" stroke="#a54b4b" stroke-width="1" fill="none" stroke-linecap="square" stroke-linejoin="miter" stroke-miterlimit="2"/>
<path d="M674.5 383.5 L674.5 374.5 L669.5 379.5 L675.5 379.5" stroke="#a5a5a5" stroke-width="1" fill="none" stroke-linecap="square" stroke-linejoin="miter" stroke-miterlimit="2"/>
<path d="M661.5 392.5 L664.5 389.5 L664.5 398.5 M661.5 398.5 L667.5 398.5 M675.5 389.5 L670.5 393.5 L669.5 394.5 L669.5 397.5 L670.5 398.5 L674.5 398.5 L675.5 397.5 L675.5 394.5 L674.5 393.5 L670.5 393.5" stroke="#a5a5a5" stroke-width="1" fill="none" stroke-linecap="square" stroke-linejoin="miter" stroke-miterlimit="2"/>
<path d="M661.5 407.5 L664.5 404.5 L664.5 413.5 M661.5 413.5 L667.5 413.5 M674.5 413.5 L674.5 404.5 L669.5 409.5 L675.5 409.5" stroke="#a5a5a5" stroke-width="1" fill="none" stroke-linecap="square" stroke-linejoin="miter" stroke-miterlimit="2"/>
<path d="M669.5 422.5 L672.5 419.5 L672.5 428.5 M669.5 428.5 L675.5 428.5" stroke="#a5a5a5" stroke-width="1" fill="none" stroke-linecap="square" stroke-linejoin="miter" stroke-miterlimit="2"/>
<path d="M653.5 449.5 L659.5 449.5 L659.5 450.5 L653.5 456.5 L653.5 458.5 M661.5 453.5 L667.5 453.5 M664.5 450.5 L664.5 456.5 M662.5 451.5 L666.5 456.5 M666.5 451.5 L662.5 456.5 M669.5 451.5 L671.5 449.5 L673.5 449.5 L675.5 450.5 L675.5 452.5 L669.5 458.5 L675.5 458.5" stroke="#a5a5a5" stroke-width="1" fill="none" stroke-linecap="square" stroke-linejoin="miter" stroke-miterlimit="2"/>
<path d="M653.5 465.5 L654.5 464.5 L658.5 464.5 L659.5 465.5 L659.5 467.5 L658.5 468.5 L659.5 469.5 L659.5 472.5 L658.5 473.5 L654.5 473.5 L653.5 472.5 M658.5 468.5 L656.5 468.5 M661.5 468.5 L667.5 468.5 M664.5 465.5 L664.5 471.5 M662.5 466.5 L666.5 471.5 M666.5 466.5 L662.5 471.5 M674.5 473.5 L674.5 464.5 L669.5 469.5 L675.5 469.5" stroke="#a5a5a5" stroke-width="1" fill="none" stroke-linecap="square" stroke-linejoin="miter" stroke-miterlimit="2"/>
<path d="M581.5 376.5 L580.5 375.5 L576.5 375.5 L575.5 376.5 L575.5 379.5 L576.5 380.5 L580.5 380.5 L581.5 381.5 L581.5 384.5 L580.5 385.5 L576.5 385.5 L575.5 384.5 M585.5 375.5 L590.5 375.5 L591.5 376.5 L591.5 384.5 L590.5 385.5 L585.5 385.5 L585.5 375.5 M594.5 386.5 L600.5 386.5 M604.5 385.5 L604.5 375.5 L607.5 378.5 L610.5 375.5 L610.5 385.5 M614.5 375.5 L618.5 375.5 L619.5 376.5 L619.5 384.5 L618.5 385.5 L614.5 385.5 L613.5 384.5 L613.5 376.5 L614.5 375.5 M623.5 375.5 L628.5 375.5 L629.5 376.5 L629.5 384.5 L628.5 385.5 L623.5 385.5 L623.5 375.5 M638.5 375.5 L632.5 375.5 L632.5 385.5 L638.5 385.5 M632.5 380.5 L636.5 380.5" stroke="#a5a5a5" stroke-width="1" fill="none" stroke-linecap="square" stroke-linejoin="miter" stroke-miterlimit="2"/>
<path d="M575.5 395.5 L580.5 395.5 L581.5 394.5 L581.5 391.5 L580.5 390.5 L575.5 390.5 L575.5 400.5 L580.5 400.5 L581.5 399.5 L581.5 396.5 L580.5 395.5 M590.5 391.5 L589.5 390.5 L585.5 390.5 L584.5 391.5 L584.5 399.5 L585.5 400.5 L589.5 400.5 L590.5 399.5 M594.5 390.5 L594.5 400.5 L600.5 400.5 M603.5 390.5 L603.5 400.5 M609.5 390.5 L603.5 396.5 M604.5 395.5 L609.5 400.5" stroke="#a5a5a5" stroke-width="1" fill="none" stroke-linecap="square" stroke-linejoin="miter" stroke-miterlimit="2"/>
<path d="M575.5 405.5 L575.5 415.5 L581.5 415.5 M585.5 415.5 L585.5 405.5 L590.5 405.5 L591.5 406.5 L591.5 410.5 L590.5 411.5 L585.5 411.5 M588.5 411.5 L591.5 415.5 M600.5 406.5 L599.5 405.5 L595.5 405.5 L594.5 406.5 L594.5 414.5 L595.5 415.5 L599.5 415.5 L600.5 414.5 M604.5 405.5 L604.5 415.5 L610.5 415.5 M613.5 405.5 L613.5 415.5 M619.5 405.5 L613.5 411.5 M614.5 410.5 L619.5 415.5" stroke="#a5a5a5" stroke-width="1" fill="none" stroke-linecap="square" stroke-linejoin="miter" stroke-miterlimit="2"/>
<path d="M575.5 420.5 L580.5 420.5 L581.5 421.5 L581.5 429.5 L580.5 430.5 L575.5 430.5 L575.5 420.5 M584.5 420.5 L588.5 420.5 M586.5 420.5 L586.5 430.5 M584.5 430.5 L588.5 430.5 M590.5 430.5 L590.5 420.5 L596.5 430.5 L596.5 420.5" stroke="#a5a5a5" stroke-width="1" fill="none" stroke-linecap="square" stroke-linejoin="miter" stroke-miterlimit="2"/>
<path d="M699.5 382.5 L698.5 381.5 L695.5 381.5 L694.5 382.5 L694.5 384.5 L695.5 385.5 L698.5 385.5 L699.5 386.5 L699.5 388.5 L698.5 389.5 L695.5 389.5 L694.5 388.5 M702.5 381.5 L706.5 381.5 L707.5 382.5 L707.5 388.5 L706.5 389.5 L702.5 389.5 L702.5 381.5 M711.5 390.5 L716.5 390.5 M719.5 389.5 L719.5 381.5 L721.5 383.5 L724.5 381.5 L724.5 389.5 M729.5 381.5 L732.5 381.5 L733.5 382.5 L733.5 388.5 L732.5 389.5 L729.5 389.5 L728.5 388.5 L728.5 382.5 L729.5 381.5 M736.5 381.5 L740.5 381.5 L741.5 382.5 L741.5 388.5 L740.5 389.5 L736.5 389.5 L736.5 381.5 M750.5 381.5 L745.5 381.5 L745.5 389.5 L750.5 389.5 M745.5 385.5 L748.5 385.5" stroke="#a5a5a5" stroke-width="1" fill="none" stroke-linecap="square" stroke-linejoin="miter" stroke-miterlimit="2"/>
<path d="M694.5 400.5 L698.5 400.5 L699.5 399.5 L699.5 397.5 L698.5 396.5 L694.5 396.5 L694.5 404.5 L698.5 404.5 L699.5 403.5 L699.5 401.5 L698.5 400.5 M707.5 397.5 L706.5 396.5 L703.5 396.5 L702.5 397.5 L702.5 403.5 L703.5 404.5 L706.5 404.5 L707.5 403.5 M711.5 396.5 L711.5 404.5 L716.5 404.5 M719.5 396.5 L719.5 404.5 M724.5 396.5 L719.5 401.5 M720.5 400.5 L724.5 404.5" stroke="#a5a5a5" stroke-width="1" fill="none" stroke-linecap="square" stroke-linejoin="miter" stroke-miterlimit="2"/>
<path d="M694.5 411.5 L694.5 419.5 L699.5 419.5 M702.5 419.5 L702.5 411.5 L706.5 411.5 L707.5 412.5 L707.5 415.5 L706.5 416.5 L702.5 416.5 M704.5 416.5 L707.5 419.5 M716.5 412.5 L715.5 411.5 L712.5 411.5 L711.5 412.5 L711.5 418.5 L712.5 419.5 L715.5 419.5 L716.5 418.5 M719.5 411.5 L719.5 419.5 L724.5 419.5 M727.5 411.5 L727.5 419.5 M732.5 411.5 L727.5 416.5 M728.5 415.5 L732.5 419.5" stroke="#a5a5a5" stroke-width="1" fill="none" stroke-linecap="square" stroke-linejoin="miter" stroke-miterlimit="2"/>
<path d="M694.5 426.5 L698.5 426.5 L699.5 427.5 L699.5 433.5 L698.5 434.5 L694.5 434.5 L694.5 426.5 M702.5 426.5 L705.5 426.5 M704.5 426.5 L704.5 434.5 M702.5 434.5 L705.5 434.5 M708.5 434.5 L708.5 426.5 L713.5 434.5 L713.5 426.5" stroke="#a5a5a5" stroke-width="1" fill="none" stroke-linecap="square" stroke-linejoin="miter" stroke-miterlimit="2"/>
<path d="M694.5 456.5 L694.5 462.5 L696.5 464.5 L699.5 462.5 L699.5 456.5 M702.5 456.5 L706.5 456.5 L707.5 457.5 L707.5 463.5 L706.5 464.5 L702.5 464.5 L702.5 456.5 M711.5 456.5 L715.5 456.5 L716.5 457.5 L716.5 463.5 L715.5 464.5 L711.5 464.5 L711.5 456.5" stroke="#a5a5a5" stroke-width="1" fill="none" stroke-linecap="square" stroke-linejoin="miter" stroke-miterlimit="2"/>
<path d="M699.5 472.5 L698.5 471.5 L695.5 471.5 L694.5 472.5 L694.5 478.5 L695.5 479.5 L698.5 479.5 L699.5 478.5 L699.5 475.5 L696.5 475.5 M702.5 479.5 L702.5 471.5 L707.5 479.5 L707.5 471.5 M711.5 471.5 L715.5 471.5 L716.5 472.5 L716.5 478.5 L715.5 479.5 L711.5 479.5 L711.5 471.5" stroke="#a5a5a5" stroke-width="1" fill="none" stroke-linecap="square" stroke-linejoin="miter" stroke-miterlimit="2"/>
<path d="M784.5 381.5 L787.5 381.5 L788.5 382.5 L788.5 388.5 L787.5 389.5 L784.5 389.5 L783.5 388.5 L783.5 382.5 L784.5 381.5 M791.5 381.5 L791.5 388.5 L792.5 389.5 L795.5 389.5 L796.5 388.5 L796.5 381.5 M800.5 381.5 L805.5 381.5 M802.5 381.5 L802.5 389.5 M808.5 389.5 L808.5 381.5 L812.5 381.5 L813.5 382.5 L813.5 385.5 L812.5 386.5 L808.5 386.5" stroke="#a5a5a5" stroke-width="1" fill="none" stroke-linecap="square" stroke-linejoin="miter" stroke-miterlimit="2"/>
<path d="M784.5 426.5 L787.5 426.5 L788.5 427.5 L788.5 433.5 L787.5 434.5 L784.5 434.5 L783.5 433.5 L783.5 427.5 L784.5 426.5 M791.5 426.5 L791.5 433.5 L792.5 434.5 L795.5 434.5 L796.5 433.5 L796.5 426.5 M800.5 426.5 L805.5 426.5 M802.5 426.5 L802.5 434.5 M808.5 434.5 L808.5 426.5 L813.5 434.5 L813.5 426.5" stroke="#a5a5a5" stroke-width="1" fill="none" stroke-linecap="square" stroke-linejoin="miter" stroke-miterlimit="2"/>
<path d="M791.5 472.5 L790.5 471.5 L787.5 471.5 L786.5 472.5 L786.5 478.5 L787.5 479.5 L790.5 479.5 L791.5 478.5 L791.5 475.5 L788.5 475.5 M794.5 479.5 L794.5 474.5 L796.5 471.5 L799.5 474.5 L799.5 479.5 M794.5 475.5 L799.5 475.5 M802.5 471.5 L805.5 471.5 M804.5 471.5 L804.5 479.5 M802.5 479.5 L805.5 479.5 M808.5 479.5 L808.5 471.5 L813.5 479.5 L813.5 471.5" stroke="#a5a5a5" stroke-width="1" fill="none" stroke-linecap="square" stroke-linejoin="miter" stroke-miterlimit="2"/>
<path d="M695.5 496.5 L695.5 501.5 L697.5 503.5 L699.5 501.5 L699.5 496.5 M702.5 496.5 L706.5 496.5 L706.5 497.5 L706.5 502.5 L706.5 503.5 L702.5 503.5 L702.5 496.5 M709.5 496.5 L713.5 496.5 L713.5 497.5 L713.5 502.5 L713.5 503.5 L709.5 503.5 L709.5 496.5 M716.5 498.5 L717.5 498.5 L717.5 499.5 L716.5 499.5 L716.5 498.5 M716.5 502.5 L717.5 502.5 L717.5 503.5 L716.5 503.5 L716.5 502.5" stroke="#a54b4b" stroke-width="1" fill="none" stroke-linecap="square" stroke-linejoin="miter" stroke-miterlimit="2"/>
<path d="M770.5 497.5 L771.5 496.5 L773.5 496.5 L774.5 497.5 L774.5 499.5 L770.5 503.5 L774.5 503.5 M777.5 502.5 L778.5 502.5 L778.5 503.5 L777.5 503.5 L777.5 502.5 M784.5 496.5 L780.5 496.5 L780.5 499.5 L781.5 499.5 L783.5 498.5 L784.5 498.5 L784.5 499.5 L784.5 502.5 L784.5 503.5 L781.5 503.5 L780.5 502.5 M787.5 499.5 L791.5 499.5 M798.5 496.5 L794.5 496.5 L794.5 499.5 L795.5 499.5 L797.5 498.5 L798.5 498.5 L798.5 499.5 L798.5 502.5 L798.5 503.5 L795.5 503.5 L794.5 502.5 M801.5 502.5 L802.5 502.5 L802.5 503.5 L801.5 503.5 L801.5 502.5 M808.5 496.5 L804.5 496.5 L804.5 499.5 L805.5 499.5 L807.5 498.5 L808.5 498.5 L808.5 499.5 L808.5 502.5 L808.5 503.5 L805.5 503.5 L804.5 502.5 M811.5 496.5 L811.5 501.5 L813.5 503.5 L815.5 501.5 L815.5 496.5" stroke="#a54b4b" stroke-width="1" fill="none" stroke-linecap="square" stroke-linejoin="miter" stroke-miterlimit="2"/>
<path d="M696.5 507.5 L699.5 507.5 L699.5 508.5 L699.5 513.5 L699.5 514.5 L696.5 514.5 L695.5 513.5 L695.5 508.5 L696.5 507.5 M702.5 516.5 L702.5 509.5 L706.5 509.5 L706.5 510.5 L706.5 513.5 L706.5 514.5 L702.5 514.5 M709.5 513.5 L710.5 513.5 L710.5 514.5 L709.5 514.5 L709.5 513.5 M719.5 507.5 L723.5 507.5 M721.5 507.5 L721.5 514.5 M727.5 511.5 L731.5 511.5 L731.5 510.5 L731.5 509.5 L728.5 509.5 L727.5 510.5 L727.5 513.5 L728.5 514.5 L731.5 514.5 M734.5 514.5 L734.5 509.5 L735.5 509.5 L736.5 510.5 L736.5 514.5 M736.5 510.5 L737.5 509.5 L738.5 509.5 L738.5 510.5 L738.5 514.5 M741.5 516.5 L741.5 509.5 L745.5 509.5 L745.5 510.5 L745.5 513.5 L745.5 514.5 L741.5 514.5 M748.5 509.5 L749.5 509.5 L749.5 510.5 L748.5 510.5 L748.5 509.5 M748.5 513.5 L749.5 513.5 L749.5 514.5 L748.5 514.5 L748.5 513.5" stroke="#a54b4b" stroke-width="1" fill="none" stroke-linecap="square" stroke-linejoin="miter" stroke-miterlimit="2"/>
<path d="M770.5 510.5 L774.5 510.5 M781.5 514.5 L781.5 507.5 L777.5 511.5 L782.5 511.5 M786.5 507.5 L789.5 507.5 L789.5 508.5 L789.5 513.5 L789.5 514.5 L786.5 514.5 L785.5 513.5 L785.5 508.5 L786.5 507.5 M785.5 513.5 L789.5 508.5 M792.5 509.5 L793.5 508.5 L794.5 509.5 L795.5 508.5 M799.5 510.5 L798.5 510.5 L798.5 508.5 L799.5 507.5 L801.5 507.5 L802.5 508.5 L802.5 510.5 L801.5 510.5 L799.5 510.5 L798.5 511.5 L798.5 513.5 L799.5 514.5 L802.5 514.5 L802.5 513.5 L802.5 511.5 L802.5 510.5 L801.5 510.5 M809.5 507.5 L805.5 507.5 L805.5 510.5 L806.5 510.5 L808.5 509.5 L809.5 509.5 L809.5 510.5 L809.5 513.5 L809.5 514.5 L806.5 514.5 L805.5 513.5 M812.5 507.5 L813.5 507.5 L814.5 507.5 L814.5 508.5 L813.5 509.5 L812.5 509.5 L812.5 508.5 L812.5 507.5 L812.5 507.5 M821.5 508.5 L821.5 507.5 L818.5 507.5 L817.5 508.5 L817.5 513.5 L818.5 514.5 L821.5 514.5 L821.5 513.5" stroke="#a54b4b" stroke-width="1" fill="none" stroke-linecap="square" stroke-linejoin="miter" stroke-miterlimit="2"/>
<path d="M680.5 535.5 L680.5 528.5 L682.5 530.5 L684.5 528.5 L684.5 535.5 M687.5 535.5 L687.5 530.5 L689.5 528.5 L691.5 530.5 L691.5 535.5 M687.5 532.5 L691.5 532.5 M694.5 528.5 L698.5 535.5 M698.5 528.5 L694.5 535.5 M705.5 531.5 L702.5 531.5 L701.5 531.5 L701.5 529.5 L702.5 528.5 L705.5 528.5 L705.5 529.5 L705.5 534.5 L705.5 535.5 L702.5 535.5 L701.5 534.5 M708.5 531.5 L707.5 531.5 L707.5 529.5 L708.5 528.5 L710.5 528.5 L711.5 529.5 L711.5 531.5 L710.5 531.5 L708.5 531.5 L707.5 532.5 L707.5 534.5 L708.5 535.5 L711.5 535.5 L711.5 534.5 L711.5 532.5 L711.5 531.5 L710.5 531.5 M714.5 529.5 L715.5 528.5 L718.5 528.5 L718.5 529.5 L718.5 531.5 L718.5 531.5 L718.5 532.5 L718.5 534.5 L718.5 535.5 L715.5 535.5 L714.5 534.5 M718.5 531.5 L716.5 531.5 M725.5 528.5 L721.5 528.5 L721.5 531.5 L722.5 531.5 L724.5 530.5 L725.5 530.5 L725.5 531.5 L725.5 534.5 L725.5 535.5 L722.5 535.5 L721.5 534.5 M728.5 528.5 L732.5 528.5 L732.5 529.5 L728.5 533.5 L728.5 535.5 M735.5 535.5 L735.5 530.5 L737.5 528.5 L739.5 530.5 L739.5 535.5 M735.5 532.5 L739.5 532.5" stroke="#a5a5a5" stroke-width="1" fill="none" stroke-linecap="square" stroke-linejoin="miter" stroke-miterlimit="2"/>
<path d="M838.5 378.5 L833.5 378.5 L832.5 377.5 L832.5 375.5 L833.5 374.5 L837.5 374.5 L838.5 375.5 L838.5 382.5 L837.5 383.5 L833.5 383.5 L832.5 382.5" stroke="#a5a5a5" stroke-width="1" fill="none" stroke-linecap="square" stroke-linejoin="miter" stroke-miterlimit="2"/>
<path d="M832.5 422.5 L835.5 419.5 L835.5 428.5 M832.5 428.5 L838.5 428.5 M842.5 419.5 L846.5 419.5 L847.5 420.5 L847.5 427.5 L846.5 428.5 L842.5 428.5 L841.5 427.5 L841.5 420.5 L842.5 419.5 M841.5 427.5 L847.5 420.5" stroke="#a5a5a5" stroke-width="1" fill="none" stroke-linecap="square" stroke-linejoin="miter" stroke-miterlimit="2"/>
<path d="M832.5 466.5 L834.5 464.5 L836.5 464.5 L838.5 465.5 L838.5 467.5 L832.5 473.5 L838.5 473.5" stroke="#a5a5a5" stroke-width="1" fill="none" stroke-linecap="square" stroke-linejoin="miter" stroke-miterlimit="2"/>
<path d="M851.5 466.5 L850.5 465.5 L846.5 465.5 L845.5 466.5 L845.5 474.5 L846.5 475.5 L850.5 475.5 L851.5 474.5 L851.5 470.5 L848.5 470.5 M854.5 475.5 L854.5 468.5 L857.5 465.5 L860.5 468.5 L860.5 475.5 M854.5 470.5 L860.5 470.5 M863.5 465.5 L867.5 465.5 M865.5 465.5 L865.5 475.5 M863.5 475.5 L867.5 475.5 M870.5 475.5 L870.5 465.5 L876.5 475.5 L876.5 465.5" stroke="#a5a5a5" stroke-width="1" fill="none" stroke-linecap="square" stroke-linejoin="miter" stroke-miterlimit="2"/>
<path d="M851.5 481.5 L850.5 480.5 L846.5 480.5 L845.5 481.5 L845.5 489.5 L846.5 490.5 L850.5 490.5 L851.5 489.5 L851.5 485.5 L848.5 485.5 M856.5 483.5 L860.5 483.5 L861.5 484.5 L861.5 490.5 L856.5 490.5 L855.5 489.5 L855.5 488.5 L856.5 486.5 L861.5 486.5 M865.5 478.5 L865.5 480.5 M864.5 483.5 L865.5 483.5 L865.5 490.5 M864.5 490.5 L867.5 490.5 M871.5 483.5 L871.5 490.5 M871.5 483.5 L876.5 483.5 L877.5 484.5 L877.5 490.5 M880.5 483.5 L886.5 483.5 M880.5 486.5 L886.5 486.5 M896.5 485.5 L891.5 485.5 L890.5 484.5 L890.5 481.5 L891.5 480.5 L895.5 480.5 L896.5 481.5 L896.5 489.5 L895.5 490.5 L891.5 490.5 L890.5 489.5 M906.5 480.5 L906.5 490.5 L901.5 490.5 L900.5 489.5 L900.5 484.5 L901.5 483.5 L906.5 483.5 M909.5 485.5 L914.5 485.5 L915.5 484.5 L915.5 481.5 L914.5 480.5 L909.5 480.5 L909.5 490.5 L914.5 490.5 L915.5 489.5 L915.5 486.5 L914.5 485.5" stroke="#a5a5a5" stroke-width="1" fill="none" stroke-linecap="square" stroke-linejoin="miter" stroke-miterlimit="2"/>
<path d="M641.5 267.5 L641.5 272.5 L643.5 274.5 L645.5 272.5 L645.5 267.5 M648.5 267.5 L652.5 267.5 L652.5 268.5 L652.5 273.5 L652.5 274.5 L648.5 274.5 L648.5 267.5 M655.5 267.5 L659.5 267.5 L659.5 268.5 L659.5 273.5 L659.5 274.5 L655.5 274.5 L655.5 267.5" stroke="#a5a5a5" stroke-width="1" fill="none" stroke-linecap="square" stroke-linejoin="miter" stroke-miterlimit="2"/>
<path d="M638.5 347.5 L631.5 347.5 L631.5 343.5 L632.5 343.5 L635.5 343.5 L635.5 343.5 L635.5 347.5 M635.5 345.5 L638.5 343.5 M633.5 340.5 L631.5 337.5 L638.5 337.5 M638.5 340.5 L638.5 335.5" stroke="#a5a5a5" stroke-width="1" fill="none" stroke-linecap="square" stroke-linejoin="miter" stroke-miterlimit="2"/>
<path d="M648.5 345.5 L647.5 343.5 L652.5 343.5 M652.5 345.5 L652.5 342.5 M652.5 339.5 L647.5 339.5 L648.5 338.5 L647.5 336.5 L652.5 336.5" stroke="#a5a5a5" stroke-width="1" fill="none" stroke-linecap="square" stroke-linejoin="miter" stroke-miterlimit="2"/>
<path d="M551.5 417.5 L551.5 422.5 L553.5 424.5 L555.5 422.5 L555.5 417.5 M558.5 417.5 L562.5 417.5 L562.5 418.5 L562.5 423.5 L562.5 424.5 L558.5 424.5 L558.5 417.5 M564.5 417.5 L568.5 417.5 L568.5 418.5 L568.5 423.5 L568.5 424.5 L564.5 424.5 L564.5 417.5" stroke="#a5a5a5" stroke-width="1" fill="none" stroke-linecap="square" stroke-linejoin="miter" stroke-miterlimit="2"/>
<path d="M555.5 559.5 L555.5 558.5 L552.5 558.5 L551.5 559.5 L551.5 564.5 L552.5 565.5 L555.5 565.5 L555.5 564.5 L555.5 561.5 L553.5 561.5 M558.5 565.5 L558.5 558.5 L562.5 565.5 L562.5 558.5 M564.5 558.5 L568.5 558.5 L568.5 559.5 L568.5 564.5 L568.5 565.5 L564.5 565.5 L564.5 558.5" stroke="#a5a5a5" stroke-width="1" fill="none" stroke-linecap="square" stroke-linejoin="miter" stroke-miterlimit="2"/>
<path d="M600.5 559.5 L600.5 558.5 L597.5 558.5 L596.5 559.5 L596.5 564.5 L597.5 565.5 L600.5 565.5 L600.5 564.5 L600.5 561.5 L598.5 561.5 M603.5 565.5 L603.5 558.5 L607.5 565.5 L607.5 558.5 M609.5 558.5 L613.5 558.5 L613.5 559.5 L613.5 564.5 L613.5 565.5 L609.5 565.5 L609.5 558.5" stroke="#a5a5a5" stroke-width="1" fill="none" stroke-linecap="square" stroke-linejoin="miter" stroke-miterlimit="2"/>
<path d="M543.5 500.5 L542.5 500.5 L542.5 503.5 L543.5 504.5 L548.5 504.5 L549.5 503.5 L549.5 500.5 L548.5 500.5 M543.5 498.5 L542.5 497.5 L542.5 495.5 L543.5 494.5 L545.5 494.5 L549.5 498.5 L549.5 494.5" stroke="#a5a5a5" stroke-width="1" fill="none" stroke-linecap="square" stroke-linejoin="miter" stroke-miterlimit="2"/>
<path d="M571.5 511.5 L569.5 508.5 L576.5 508.5 M576.5 511.5 L576.5 506.5 M569.5 503.5 L569.5 500.5 L570.5 500.5 L575.5 500.5 L576.5 500.5 L576.5 503.5 L575.5 504.5 L570.5 504.5 L569.5 503.5 M575.5 504.5 L570.5 500.5 M571.5 497.5 L575.5 497.5 L576.5 496.5 L576.5 493.5 M571.5 493.5 L576.5 493.5 M569.5 487.5 L569.5 491.5 L576.5 491.5 M572.5 491.5 L572.5 488.5" stroke="#a5a5a5" stroke-width="1" fill="none" stroke-linecap="square" stroke-linejoin="miter" stroke-miterlimit="2"/>
<path d="M588.5 500.5 L587.5 500.5 L587.5 503.5 L588.5 504.5 L593.5 504.5 L594.5 503.5 L594.5 500.5 L593.5 500.5 M589.5 497.5 L587.5 494.5 L594.5 494.5 M594.5 497.5 L594.5 492.5" stroke="#a5a5a5" stroke-width="1" fill="none" stroke-linecap="square" stroke-linejoin="miter" stroke-miterlimit="2"/>
<path d="M614.5 512.5 L614.5 509.5 L615.5 509.5 L620.5 509.5 L621.5 509.5 L621.5 512.5 L620.5 513.5 L615.5 513.5 L614.5 512.5 M620.5 513.5 L615.5 509.5 M620.5 506.5 L620.5 505.5 L621.5 505.5 L621.5 506.5 L620.5 506.5 M616.5 503.5 L614.5 500.5 L621.5 500.5 M621.5 503.5 L621.5 498.5 M616.5 496.5 L620.5 496.5 L621.5 495.5 L621.5 492.5 M616.5 492.5 L621.5 492.5 M614.5 485.5 L614.5 489.5 L621.5 489.5 M617.5 489.5 L617.5 486.5" stroke="#a5a5a5" stroke-width="1" fill="none" stroke-linecap="square" stroke-linejoin="miter" stroke-miterlimit="2"/>
<path d="M645.5 559.5 L645.5 558.5 L642.5 558.5 L641.5 559.5 L641.5 564.5 L642.5 565.5 L645.5 565.5 L645.5 564.5 L645.5 561.5 L643.5 561.5 M648.5 565.5 L648.5 558.5 L652.5 565.5 L652.5 558.5 M655.5 558.5 L659.5 558.5 L659.5 559.5 L659.5 564.5 L659.5 565.5 L655.5 565.5 L655.5 558.5" stroke="#a5a5a5" stroke-width="1" fill="none" stroke-linecap="square" stroke-linejoin="miter" stroke-miterlimit="2"/>
<path d="M871.5 367.5 L867.5 367.5 L867.5 374.5 M867.5 370.5 L870.5 370.5 M874.5 370.5 L878.5 370.5 L878.5 370.5 L878.5 368.5 L878.5 367.5 L874.5 367.5 L874.5 374.5 L878.5 374.5 L878.5 373.5 L878.5 371.5 L878.5 370.5 M881.5 369.5 L884.5 367.5 L884.5 374.5 M881.5 374.5 L886.5 374.5" stroke="#a5a5a5" stroke-width="1" fill="none" stroke-linecap="square" stroke-linejoin="miter" stroke-miterlimit="2"/>
<path d="M871.5 397.5 L867.5 397.5 L867.5 404.5 M867.5 400.5 L870.5 400.5 M873.5 401.5 L877.5 401.5 L877.5 400.5 L877.5 399.5 L874.5 399.5 L873.5 400.5 L873.5 403.5 L874.5 404.5 L877.5 404.5 M880.5 399.5 L880.5 404.5 M880.5 401.5 L881.5 399.5 L884.5 399.5 M886.5 399.5 L886.5 404.5 M886.5 401.5 L887.5 399.5 L890.5 399.5 M893.5 396.5 L893.5 397.5 M892.5 399.5 L893.5 399.5 L893.5 404.5 M892.5 404.5 L894.5 404.5 M896.5 399.5 L899.5 399.5 M897.5 398.5 L897.5 403.5 L898.5 404.5 L899.5 404.5 M901.5 401.5 L905.5 401.5 L905.5 400.5 L905.5 399.5 L902.5 399.5 L901.5 400.5 L901.5 403.5 L902.5 404.5 L905.5 404.5" stroke="#a5a5a5" stroke-width="1" fill="none" stroke-linecap="square" stroke-linejoin="miter" stroke-miterlimit="2"/>
<path d="M871.5 412.5 L867.5 412.5 L867.5 419.5 M867.5 415.5 L870.5 415.5 M874.5 415.5 L878.5 415.5 L878.5 415.5 L878.5 413.5 L878.5 412.5 L874.5 412.5 L874.5 419.5 L878.5 419.5 L878.5 418.5 L878.5 416.5 L878.5 415.5 M881.5 413.5 L882.5 412.5 L884.5 412.5 L885.5 413.5 L885.5 415.5 L881.5 419.5 L885.5 419.5" stroke="#a5a5a5" stroke-width="1" fill="none" stroke-linecap="square" stroke-linejoin="miter" stroke-miterlimit="2"/>
<path d="M871.5 442.5 L867.5 442.5 L867.5 449.5 M867.5 445.5 L870.5 445.5 M873.5 446.5 L877.5 446.5 L877.5 445.5 L877.5 444.5 L874.5 444.5 L873.5 445.5 L873.5 448.5 L874.5 449.5 L877.5 449.5 M880.5 444.5 L880.5 449.5 M880.5 446.5 L881.5 444.5 L884.5 444.5 M886.5 444.5 L886.5 449.5 M886.5 446.5 L887.5 444.5 L890.5 444.5 M893.5 441.5 L893.5 442.5 M892.5 444.5 L893.5 444.5 L893.5 449.5 M892.5 449.5 L894.5 449.5 M896.5 444.5 L899.5 444.5 M897.5 443.5 L897.5 448.5 L898.5 449.5 L899.5 449.5 M901.5 446.5 L905.5 446.5 L905.5 445.5 L905.5 444.5 L902.5 444.5 L901.5 445.5 L901.5 448.5 L902.5 449.5 L905.5 449.5" stroke="#a5a5a5" stroke-width="1" fill="none" stroke-linecap="square" stroke-linejoin="miter" stroke-miterlimit="2"/>
<path d="M945.5 604.5 L945.5 603.5 L942.5 603.5 L941.5 604.5 L941.5 609.5 L942.5 610.5 L945.5 610.5 L945.5 609.5 L945.5 606.5 L943.5 606.5 M948.5 610.5 L948.5 603.5 L952.5 610.5 L952.5 603.5 M955.5 603.5 L959.5 603.5 L959.5 604.5 L959.5 609.5 L959.5 610.5 L955.5 610.5 L955.5 603.5" stroke="#a5a5a5" stroke-width="1" fill="none" stroke-linecap="square" stroke-linejoin="miter" stroke-miterlimit="2"/>
<path d="M990.5 604.5 L990.5 603.5 L987.5 603.5 L986.5 604.5 L986.5 609.5 L987.5 610.5 L990.5 610.5 L990.5 609.5 L990.5 606.5 L988.5 606.5 M993.5 610.5 L993.5 603.5 L997.5 610.5 L997.5 603.5 M1000.5 603.5 L1004.5 603.5 L1004.5 604.5 L1004.5 609.5 L1004.5 610.5 L1000.5 610.5 L1000.5 603.5" stroke="#a5a5a5" stroke-width="1" fill="none" stroke-linecap="square" stroke-linejoin="miter" stroke-miterlimit="2"/>
<path d="M933.5 485.5 L932.5 485.5 L932.5 488.5 L933.5 489.5 L938.5 489.5 L939.5 488.5 L939.5 485.5 L938.5 485.5 M939.5 479.5 L932.5 479.5 L936.5 483.5 L936.5 478.5" stroke="#a5a5a5" stroke-width="1" fill="none" stroke-linecap="square" stroke-linejoin="miter" stroke-miterlimit="2"/>
<path d="M961.5 500.5 L960.5 499.5 L960.5 497.5 L961.5 496.5 L963.5 496.5 L967.5 500.5 L967.5 496.5 M961.5 493.5 L960.5 492.5 L960.5 490.5 L961.5 489.5 L963.5 489.5 L967.5 493.5 L967.5 489.5 M960.5 485.5 L960.5 482.5 L961.5 482.5 L966.5 482.5 L967.5 482.5 L967.5 485.5 L966.5 486.5 L961.5 486.5 L960.5 485.5 M966.5 486.5 L961.5 482.5 M969.5 479.5 L962.5 479.5 L962.5 475.5 L963.5 475.5 L966.5 475.5 L967.5 475.5 L967.5 479.5 M960.5 468.5 L960.5 472.5 L967.5 472.5 M963.5 472.5 L963.5 469.5" stroke="#a5a5a5" stroke-width="1" fill="none" stroke-linecap="square" stroke-linejoin="miter" stroke-miterlimit="2"/>
<path d="M978.5 485.5 L977.5 485.5 L977.5 488.5 L978.5 489.5 L983.5 489.5 L984.5 488.5 L984.5 485.5 L983.5 485.5 M977.5 479.5 L977.5 483.5 L980.5 483.5 L980.5 482.5 L979.5 480.5 L979.5 479.5 L980.5 479.5 L983.5 479.5 L984.5 479.5 L984.5 482.5 L983.5 483.5" stroke="#a5a5a5" stroke-width="1" fill="none" stroke-linecap="square" stroke-linejoin="miter" stroke-miterlimit="2"/>
<path d="M1006.5 500.5 L1005.5 499.5 L1005.5 497.5 L1006.5 496.5 L1008.5 496.5 L1012.5 500.5 L1012.5 496.5 M1006.5 493.5 L1005.5 492.5 L1005.5 490.5 L1006.5 489.5 L1008.5 489.5 L1012.5 493.5 L1012.5 489.5 M1005.5 485.5 L1005.5 482.5 L1006.5 482.5 L1011.5 482.5 L1012.5 482.5 L1012.5 485.5 L1011.5 486.5 L1006.5 486.5 L1005.5 485.5 M1011.5 486.5 L1006.5 482.5 M1014.5 479.5 L1007.5 479.5 L1007.5 475.5 L1008.5 475.5 L1011.5 475.5 L1012.5 475.5 L1012.5 479.5 M1005.5 468.5 L1005.5 472.5 L1012.5 472.5 M1008.5 472.5 L1008.5 469.5" stroke="#a5a5a5" stroke-width="1" fill="none" stroke-linecap="square" stroke-linejoin="miter" stroke-miterlimit="2"/>
<path d="M1010.5 375.5 L1010.5 382.5 L1013.5 385.5 L1016.5 382.5 L1016.5 375.5 M1020.5 375.5 L1025.5 375.5 L1026.5 376.5 L1026.5 384.5 L1025.5 385.5 L1020.5 385.5 L1020.5 375.5 M1029.5 380.5 L1035.5 380.5 M1032.5 376.5 L1032.5 383.5" stroke="#a5a5a5" stroke-width="1" fill="none" stroke-linecap="square" stroke-linejoin="miter" stroke-miterlimit="2"/>
<path d="M1010.5 420.5 L1010.5 427.5 L1013.5 430.5 L1016.5 427.5 L1016.5 420.5 M1020.5 420.5 L1025.5 420.5 L1026.5 421.5 L1026.5 429.5 L1025.5 430.5 L1020.5 430.5 L1020.5 420.5 M1029.5 425.5 L1035.5 425.5" stroke="#a5a5a5" stroke-width="1" fill="none" stroke-linecap="square" stroke-linejoin="miter" stroke-miterlimit="2"/>
<path d="M1063.5 398.5 L1065.5 396.5 L1067.5 396.5 L1068.5 397.5 L1068.5 399.5 L1063.5 404.5 L1068.5 404.5" stroke="#a5a5a5" stroke-width="1" fill="none" stroke-linecap="square" stroke-linejoin="miter" stroke-miterlimit="2"/>
<path d="M1063.5 413.5 L1066.5 411.5 L1066.5 419.5 M1063.5 419.5 L1068.5 419.5" stroke="#a5a5a5" stroke-width="1" fill="none" stroke-linecap="square" stroke-linejoin="miter" stroke-miterlimit="2"/>
<path d="M1086.5 445.5 L1090.5 452.5 M1090.5 445.5 L1086.5 452.5 M1093.5 447.5 L1096.5 445.5 L1096.5 452.5 M1093.5 452.5 L1098.5 452.5" stroke="#a5a5a5" stroke-width="1" fill="none" stroke-linecap="square" stroke-linejoin="miter" stroke-miterlimit="2"/>
<path d="M680.5 247.5 L680.5 238.5 L685.5 238.5 L686.5 239.5 L686.5 243.5 L685.5 244.5 L680.5 244.5 M683.5 244.5 L686.5 247.5 M690.5 241.5 L693.5 238.5 L693.5 247.5 M690.5 247.5 L696.5 247.5 M715.5 239.5 L714.5 238.5 L710.5 238.5 L709.5 239.5 L709.5 246.5 L710.5 247.5 L714.5 247.5 L715.5 246.5 M719.5 238.5 L719.5 247.5 M719.5 241.5 L724.5 241.5 L725.5 242.5 L725.5 247.5 M729.5 241.5 L733.5 241.5 L734.5 242.5 L734.5 247.5 L729.5 247.5 L728.5 246.5 L728.5 245.5 L729.5 244.5 L734.5 244.5 M738.5 241.5 L738.5 247.5 M738.5 241.5 L743.5 241.5 L744.5 242.5 L744.5 247.5 M747.5 241.5 L747.5 247.5 M747.5 241.5 L752.5 241.5 L753.5 242.5 L753.5 247.5 M757.5 244.5 L763.5 244.5 L763.5 242.5 L762.5 241.5 L758.5 241.5 L757.5 242.5 L757.5 246.5 L758.5 247.5 L762.5 247.5 M766.5 238.5 L767.5 238.5 L767.5 247.5 M766.5 247.5 L769.5 247.5 M789.5 239.5 L788.5 238.5 L784.5 238.5 L783.5 239.5 L783.5 241.5 L784.5 242.5 L788.5 242.5 L789.5 243.5 L789.5 246.5 L788.5 247.5 L784.5 247.5 L783.5 246.5 M792.5 244.5 L798.5 244.5 L798.5 242.5 L797.5 241.5 L793.5 241.5 L792.5 242.5 L792.5 246.5 L793.5 247.5 L797.5 247.5 M802.5 238.5 L803.5 238.5 L803.5 247.5 M802.5 247.5 L805.5 247.5 M808.5 244.5 L814.5 244.5 L814.5 242.5 L813.5 241.5 L809.5 241.5 L808.5 242.5 L808.5 246.5 L809.5 247.5 L813.5 247.5 M824.5 241.5 L819.5 241.5 L818.5 242.5 L818.5 246.5 L819.5 247.5 L824.5 247.5 M827.5 241.5 L831.5 241.5 M829.5 239.5 L829.5 246.5 L830.5 247.5 L831.5 247.5 M836.5 236.5 L836.5 238.5 M835.5 241.5 L836.5 241.5 L836.5 247.5 M835.5 247.5 L838.5 247.5 M843.5 241.5 L847.5 241.5 L848.5 242.5 L848.5 246.5 L847.5 247.5 L843.5 247.5 L842.5 246.5 L842.5 242.5 L843.5 241.5 M851.5 241.5 L851.5 247.5 M851.5 241.5 L856.5 241.5 L857.5 242.5 L857.5 247.5 M861.5 241.5 L862.5 241.5 L862.5 242.5 L861.5 242.5 L861.5 241.5 M861.5 246.5 L862.5 246.5 L862.5 247.5 L861.5 247.5 L861.5 246.5" stroke="#a5a5a5" stroke-width="1" fill="none" stroke-linecap="square" stroke-linejoin="miter" stroke-miterlimit="2"/>
<path d="M680.5 254.5 L680.5 263.5 L686.5 263.5 M696.5 254.5 L690.5 254.5 L690.5 263.5 L696.5 263.5 M690.5 258.5 L694.5 258.5 M705.5 254.5 L699.5 254.5 L699.5 263.5 M699.5 258.5 L703.5 258.5 M709.5 254.5 L715.5 254.5 M712.5 254.5 L712.5 263.5 M728.5 257.5 L734.5 257.5 M728.5 260.5 L734.5 260.5 M748.5 254.5 L748.5 260.5 L751.5 263.5 L754.5 260.5 L754.5 254.5 M757.5 254.5 L762.5 254.5 L763.5 255.5 L763.5 262.5 L762.5 263.5 L757.5 263.5 L757.5 254.5 M767.5 254.5 L772.5 254.5 L773.5 255.5 L773.5 262.5 L772.5 263.5 L767.5 263.5 L767.5 254.5 M789.5 254.5 L786.5 257.5 L786.5 260.5 L789.5 263.5 M794.5 254.5 L798.5 254.5 L799.5 255.5 L799.5 262.5 L798.5 263.5 L794.5 263.5 L793.5 262.5 L793.5 255.5 L794.5 254.5 M793.5 262.5 L799.5 255.5 M813.5 254.5 L817.5 254.5 L818.5 255.5 L818.5 262.5 L817.5 263.5 L813.5 263.5 L812.5 262.5 L812.5 255.5 L813.5 254.5 M822.5 254.5 L822.5 263.5 M822.5 257.5 L827.5 257.5 L828.5 258.5 L828.5 263.5 M831.5 263.5 L831.5 257.5 L833.5 257.5 L834.5 258.5 L834.5 263.5 M834.5 258.5 L835.5 257.5 L836.5 257.5 L837.5 258.5 L837.5 263.5 M841.5 254.5 L844.5 257.5 L844.5 260.5 L841.5 263.5" stroke="#a5a5a5" stroke-width="1" fill="none" stroke-linecap="square" stroke-linejoin="miter" stroke-miterlimit="2"/>
<path d="M680.5 278.5 L680.5 269.5 L685.5 269.5 L686.5 270.5 L686.5 274.5 L685.5 275.5 L680.5 275.5 M683.5 275.5 L686.5 278.5 M690.5 269.5 L694.5 269.5 M692.5 269.5 L692.5 278.5 M690.5 278.5 L694.5 278.5 M703.5 270.5 L702.5 269.5 L698.5 269.5 L697.5 270.5 L697.5 277.5 L698.5 278.5 L702.5 278.5 L703.5 277.5 L703.5 273.5 L700.5 273.5 M707.5 269.5 L707.5 278.5 M713.5 269.5 L713.5 278.5 M707.5 273.5 L713.5 273.5 M716.5 269.5 L722.5 269.5 M719.5 269.5 L719.5 278.5 M736.5 272.5 L742.5 272.5 M736.5 275.5 L742.5 275.5 M755.5 270.5 L756.5 269.5 L760.5 269.5 L761.5 270.5 L761.5 272.5 L760.5 273.5 L761.5 274.5 L761.5 277.5 L760.5 278.5 L756.5 278.5 L755.5 277.5 M760.5 273.5 L758.5 273.5 M764.5 269.5 L770.5 269.5 L770.5 270.5 L764.5 276.5 L764.5 278.5 M775.5 269.5 L779.5 269.5 L780.5 270.5 L780.5 277.5 L779.5 278.5 L775.5 278.5 L774.5 277.5 L774.5 270.5 L775.5 269.5 M774.5 277.5 L780.5 270.5 M784.5 269.5 L784.5 278.5 M790.5 269.5 L784.5 274.5 M785.5 273.5 L790.5 278.5 M806.5 269.5 L803.5 272.5 L803.5 275.5 L806.5 278.5 M815.5 273.5 L810.5 273.5 L809.5 272.5 L809.5 270.5 L810.5 269.5 L814.5 269.5 L815.5 270.5 L815.5 277.5 L814.5 278.5 L810.5 278.5 L809.5 277.5 M824.5 278.5 L824.5 269.5 L819.5 274.5 L825.5 274.5 M829.5 273.5 L835.5 273.5 M832.5 270.5 L832.5 276.5 M830.5 271.5 L834.5 276.5 M834.5 271.5 L830.5 276.5 M839.5 269.5 L839.5 275.5 L842.5 278.5 L845.5 275.5 L845.5 269.5 M848.5 269.5 L853.5 269.5 L854.5 270.5 L854.5 277.5 L853.5 278.5 L848.5 278.5 L848.5 269.5 M858.5 269.5 L863.5 269.5 L864.5 270.5 L864.5 277.5 L863.5 278.5 L858.5 278.5 L858.5 269.5 M868.5 273.5 L874.5 273.5 M877.5 272.5 L880.5 269.5 L880.5 278.5 M877.5 278.5 L883.5 278.5 M888.5 269.5 L892.5 269.5 L893.5 270.5 L893.5 277.5 L892.5 278.5 L888.5 278.5 L887.5 277.5 L887.5 270.5 L888.5 269.5 M887.5 277.5 L893.5 270.5 M898.5 269.5 L902.5 269.5 L903.5 270.5 L903.5 277.5 L902.5 278.5 L898.5 278.5 L897.5 277.5 L897.5 270.5 L898.5 269.5 M897.5 277.5 L903.5 270.5 M906.5 269.5 L909.5 272.5 L909.5 275.5 L906.5 278.5" stroke="#a5a5a5" stroke-width="1" fill="none" stroke-linecap="square" stroke-linejoin="miter" stroke-miterlimit="2"/>
<path d="M680.5 285.5 L680.5 294.5 L686.5 294.5 M696.5 285.5 L690.5 285.5 L690.5 294.5 L696.5 294.5 M690.5 289.5 L694.5 289.5 M705.5 285.5 L699.5 285.5 L699.5 294.5 M699.5 289.5 L703.5 289.5 M709.5 285.5 L715.5 285.5 M712.5 285.5 L712.5 294.5 M718.5 294.5 L724.5 285.5 M728.5 287.5 L730.5 285.5 L732.5 285.5 L734.5 286.5 L734.5 288.5 L728.5 294.5 L734.5 294.5 M747.5 289.5 L753.5 289.5 M750.5 286.5 L750.5 292.5 M766.5 294.5 L766.5 285.5 L771.5 285.5 L772.5 286.5 L772.5 290.5 L771.5 291.5 L766.5 291.5 M769.5 291.5 L772.5 294.5 M776.5 285.5 L780.5 285.5 M778.5 285.5 L778.5 294.5 M776.5 294.5 L780.5 294.5 M790.5 286.5 L789.5 285.5 L785.5 285.5 L784.5 286.5 L784.5 293.5 L785.5 294.5 L789.5 294.5 L790.5 293.5 L790.5 289.5 L787.5 289.5 M793.5 285.5 L793.5 294.5 M799.5 285.5 L799.5 294.5 M793.5 289.5 L799.5 289.5 M803.5 285.5 L809.5 285.5 M806.5 285.5 L806.5 294.5 M812.5 294.5 L818.5 285.5 M822.5 287.5 L824.5 285.5 L826.5 285.5 L828.5 286.5 L828.5 288.5 L822.5 294.5 L828.5 294.5 M841.5 288.5 L847.5 288.5 M841.5 291.5 L847.5 291.5 M860.5 288.5 L863.5 285.5 L863.5 294.5 M860.5 294.5 L866.5 294.5 M870.5 293.5 L871.5 293.5 L871.5 294.5 L870.5 294.5 L870.5 293.5 M876.5 285.5 L880.5 285.5 L881.5 286.5 L881.5 293.5 L880.5 294.5 L876.5 294.5 L875.5 293.5 L875.5 286.5 L876.5 285.5 M875.5 293.5 L881.5 286.5 M885.5 288.5 L888.5 285.5 L888.5 294.5 M885.5 294.5 L891.5 294.5 M895.5 288.5 L898.5 285.5 L898.5 294.5 M895.5 294.5 L901.5 294.5 M905.5 294.5 L905.5 285.5 L908.5 288.5 L911.5 285.5 L911.5 294.5 M927.5 285.5 L924.5 288.5 L924.5 291.5 L927.5 294.5 M931.5 287.5 L933.5 285.5 L935.5 285.5 L937.5 286.5 L937.5 288.5 L931.5 294.5 L937.5 294.5 M940.5 287.5 L942.5 285.5 L944.5 285.5 L946.5 286.5 L946.5 288.5 L940.5 294.5 L946.5 294.5 M950.5 287.5 L952.5 285.5 L954.5 285.5 L956.5 286.5 L956.5 288.5 L950.5 294.5 L956.5 294.5 M959.5 293.5 L960.5 293.5 L960.5 294.5 L959.5 294.5 L959.5 293.5 M964.5 287.5 L966.5 285.5 L968.5 285.5 L970.5 286.5 L970.5 288.5 L964.5 294.5 L970.5 294.5 M974.5 289.5 L980.5 289.5 M977.5 286.5 L977.5 292.5 M975.5 287.5 L979.5 292.5 M979.5 287.5 L975.5 292.5 M983.5 285.5 L983.5 291.5 L986.5 294.5 L989.5 291.5 L989.5 285.5 M993.5 285.5 L998.5 285.5 L999.5 286.5 L999.5 293.5 L998.5 294.5 L993.5 294.5 L993.5 285.5 M1003.5 285.5 L1008.5 285.5 L1009.5 286.5 L1009.5 293.5 L1008.5 294.5 L1003.5 294.5 L1003.5 285.5 M1012.5 289.5 L1018.5 289.5 M1022.5 288.5 L1025.5 285.5 L1025.5 294.5 M1022.5 294.5 L1028.5 294.5 M1033.5 285.5 L1037.5 285.5 L1038.5 286.5 L1038.5 293.5 L1037.5 294.5 L1033.5 294.5 L1032.5 293.5 L1032.5 286.5 L1033.5 285.5 M1032.5 293.5 L1038.5 286.5 M1042.5 285.5 L1046.5 285.5 L1047.5 286.5 L1047.5 293.5 L1046.5 294.5 L1042.5 294.5 L1041.5 293.5 L1041.5 286.5 L1042.5 285.5 M1041.5 293.5 L1047.5 286.5 M1051.5 285.5 L1054.5 288.5 L1054.5 291.5 L1051.5 294.5" stroke="#a5a5a5" stroke-width="1" fill="none" stroke-linecap="square" stroke-linejoin="miter" stroke-miterlimit="2"/>
<path d="M890.5 299.5 L896.5 299.5 M893.5 299.5 L893.5 308.5 M901.5 302.5 L905.5 302.5 L906.5 303.5 L906.5 307.5 L905.5 308.5 L901.5 308.5 L900.5 307.5 L900.5 303.5 L901.5 302.5 M909.5 299.5 L914.5 299.5 L915.5 300.5 L915.5 307.5 L914.5 308.5 L909.5 308.5 L909.5 299.5 M920.5 302.5 L924.5 302.5 L925.5 303.5 L925.5 307.5 L924.5 308.5 L920.5 308.5 L919.5 307.5 L919.5 303.5 L920.5 302.5 M928.5 302.5 L929.5 302.5 L929.5 303.5 L928.5 303.5 L928.5 302.5 M928.5 307.5 L929.5 307.5 L929.5 308.5 L928.5 308.5 L928.5 307.5 M949.5 299.5 L943.5 299.5 L943.5 308.5 M943.5 303.5 L947.5 303.5 M952.5 305.5 L958.5 305.5 L958.5 303.5 L957.5 302.5 L953.5 302.5 L952.5 303.5 L952.5 307.5 L953.5 308.5 L957.5 308.5 M962.5 302.5 L962.5 308.5 M962.5 304.5 L964.5 302.5 L967.5 302.5 M971.5 302.5 L971.5 308.5 M971.5 304.5 L973.5 302.5 L976.5 302.5 M980.5 297.5 L980.5 299.5 M979.5 302.5 L980.5 302.5 L980.5 308.5 M979.5 308.5 L982.5 308.5 M986.5 302.5 L990.5 302.5 M988.5 300.5 L988.5 307.5 L989.5 308.5 L990.5 308.5 M993.5 305.5 L999.5 305.5 L999.5 303.5 L998.5 302.5 L994.5 302.5 L993.5 303.5 L993.5 307.5 L994.5 308.5 L998.5 308.5 M1015.5 299.5 L1012.5 302.5 L1012.5 305.5 L1015.5 308.5 M1025.5 302.5 L1020.5 302.5 L1019.5 303.5 L1019.5 304.5 L1020.5 305.5 L1024.5 305.5 L1025.5 306.5 L1025.5 307.5 L1024.5 308.5 L1019.5 308.5 M1029.5 305.5 L1035.5 305.5 L1035.5 303.5 L1034.5 302.5 L1030.5 302.5 L1029.5 303.5 L1029.5 307.5 L1030.5 308.5 L1034.5 308.5 M1038.5 299.5 L1039.5 299.5 L1039.5 308.5 M1038.5 308.5 L1041.5 308.5 M1045.5 305.5 L1051.5 305.5 L1051.5 303.5 L1050.5 302.5 L1046.5 302.5 L1045.5 303.5 L1045.5 307.5 L1046.5 308.5 L1050.5 308.5 M1060.5 302.5 L1055.5 302.5 L1054.5 303.5 L1054.5 307.5 L1055.5 308.5 L1060.5 308.5 M1064.5 302.5 L1068.5 302.5 M1066.5 300.5 L1066.5 307.5 L1067.5 308.5 L1068.5 308.5 M1081.5 302.5 L1081.5 307.5 L1082.5 308.5 L1084.5 307.5 L1085.5 308.5 L1087.5 307.5 L1087.5 302.5 M1091.5 308.5 L1097.5 299.5 M1100.5 299.5 L1100.5 308.5 M1100.5 302.5 L1105.5 302.5 L1106.5 303.5 L1106.5 308.5 M1111.5 297.5 L1111.5 299.5 M1110.5 302.5 L1111.5 302.5 L1111.5 308.5 M1110.5 308.5 L1113.5 308.5 M1122.5 308.5 L1117.5 308.5 L1116.5 307.5 L1116.5 303.5 L1117.5 302.5 L1122.5 302.5 L1122.5 310.5 L1121.5 311.5 L1118.5 311.5 M1126.5 299.5 L1126.5 308.5 M1126.5 302.5 L1131.5 302.5 L1132.5 303.5 L1132.5 308.5 M1145.5 299.5 L1151.5 299.5 L1151.5 301.5 L1145.5 306.5 L1145.5 308.5 L1151.5 308.5 M1165.5 302.5 L1169.5 302.5 L1170.5 303.5 L1170.5 308.5 L1165.5 308.5 L1164.5 307.5 L1164.5 306.5 L1165.5 305.5 L1170.5 305.5 M1174.5 302.5 L1178.5 302.5 M1176.5 300.5 L1176.5 307.5 L1177.5 308.5 L1178.5 308.5 M1191.5 299.5 L1191.5 308.5 M1191.5 302.5 L1196.5 302.5 L1197.5 303.5 L1197.5 308.5 M1201.5 297.5 L1201.5 299.5 M1200.5 302.5 L1201.5 302.5 L1201.5 308.5 M1200.5 308.5 L1203.5 308.5 M1213.5 308.5 L1208.5 308.5 L1207.5 307.5 L1207.5 303.5 L1208.5 302.5 L1213.5 302.5 L1213.5 310.5 L1212.5 311.5 L1209.5 311.5 M1216.5 299.5 L1216.5 308.5 M1216.5 302.5 L1221.5 302.5 L1222.5 303.5 L1222.5 308.5 M1242.5 299.5 L1236.5 299.5 L1236.5 308.5 M1236.5 303.5 L1240.5 303.5 M1245.5 307.5 L1246.5 307.5 L1246.5 308.5 L1245.5 308.5 L1245.5 307.5 M1246.5 308.5 L1244.5 310.5" stroke="#a5a5a5" stroke-width="1" fill="none" stroke-linecap="square" stroke-linejoin="miter" stroke-miterlimit="2"/>
<path d="M890.5 314.5 L891.5 314.5 L891.5 323.5 M890.5 323.5 L893.5 323.5 M898.5 317.5 L902.5 317.5 L903.5 318.5 L903.5 322.5 L902.5 323.5 L898.5 323.5 L897.5 322.5 L897.5 318.5 L898.5 317.5 M906.5 317.5 L906.5 322.5 L907.5 323.5 L909.5 322.5 L910.5 323.5 L912.5 322.5 L912.5 317.5 M925.5 314.5 L931.5 314.5 L931.5 316.5 L925.5 321.5 L925.5 323.5 L931.5 323.5 M945.5 317.5 L949.5 317.5 L950.5 318.5 L950.5 323.5 L945.5 323.5 L944.5 322.5 L944.5 321.5 L945.5 320.5 L950.5 320.5 M954.5 317.5 L958.5 317.5 M956.5 315.5 L956.5 322.5 L957.5 323.5 L958.5 323.5 M971.5 314.5 L972.5 314.5 L972.5 323.5 M971.5 323.5 L974.5 323.5 M978.5 317.5 L982.5 317.5 L983.5 318.5 L983.5 322.5 L982.5 323.5 L978.5 323.5 L977.5 322.5 L977.5 318.5 L978.5 317.5 M987.5 317.5 L987.5 322.5 L988.5 323.5 L990.5 322.5 L991.5 323.5 L993.5 322.5 L993.5 317.5 M1012.5 314.5 L1006.5 314.5 L1006.5 323.5 M1006.5 318.5 L1010.5 318.5 M1015.5 314.5 L1018.5 317.5 L1018.5 320.5 L1015.5 323.5 M1022.5 322.5 L1023.5 322.5 L1023.5 323.5 L1022.5 323.5 L1022.5 322.5 M1036.5 314.5 L1042.5 314.5 M1039.5 314.5 L1039.5 323.5 M1046.5 317.5 L1046.5 323.5 M1046.5 319.5 L1048.5 317.5 L1051.5 317.5 M1054.5 317.5 L1054.5 322.5 L1055.5 323.5 L1060.5 323.5 M1060.5 317.5 L1060.5 325.5 L1059.5 326.5 L1057.5 326.5 M1073.5 317.5 L1077.5 317.5 M1075.5 315.5 L1075.5 322.5 L1076.5 323.5 L1077.5 323.5 M1082.5 317.5 L1086.5 317.5 L1087.5 318.5 L1087.5 322.5 L1086.5 323.5 L1082.5 323.5 L1081.5 322.5 L1081.5 318.5 L1082.5 317.5 M1100.5 314.5 L1100.5 323.5 L1105.5 323.5 L1106.5 322.5 L1106.5 318.5 L1105.5 317.5 L1100.5 317.5 M1109.5 314.5 L1110.5 314.5 L1110.5 323.5 M1109.5 323.5 L1112.5 323.5 M1117.5 317.5 L1121.5 317.5 L1122.5 318.5 L1122.5 322.5 L1121.5 323.5 L1117.5 323.5 L1116.5 322.5 L1116.5 318.5 L1117.5 317.5 M1131.5 317.5 L1126.5 317.5 L1125.5 318.5 L1125.5 322.5 L1126.5 323.5 L1131.5 323.5 M1135.5 314.5 L1135.5 323.5 M1140.5 317.5 L1135.5 320.5 M1136.5 319.5 L1140.5 323.5 M1153.5 320.5 L1159.5 320.5 L1159.5 318.5 L1158.5 317.5 L1154.5 317.5 L1153.5 318.5 L1153.5 322.5 L1154.5 323.5 L1158.5 323.5 M1162.5 317.5 L1162.5 318.5 L1165.5 323.5 L1168.5 318.5 L1168.5 317.5 M1172.5 320.5 L1178.5 320.5 L1178.5 318.5 L1177.5 317.5 L1173.5 317.5 L1172.5 318.5 L1172.5 322.5 L1173.5 323.5 L1177.5 323.5 M1181.5 317.5 L1181.5 323.5 M1181.5 319.5 L1183.5 317.5 L1186.5 317.5 M1190.5 317.5 L1190.5 322.5 L1191.5 323.5 L1196.5 323.5 M1196.5 317.5 L1196.5 325.5 L1195.5 326.5 L1193.5 326.5 M1199.5 317.5 L1203.5 317.5 M1201.5 315.5 L1201.5 322.5 L1202.5 323.5 L1203.5 323.5 M1207.5 314.5 L1207.5 323.5 M1207.5 317.5 L1212.5 317.5 L1213.5 318.5 L1213.5 323.5 M1217.5 312.5 L1217.5 314.5 M1216.5 317.5 L1217.5 317.5 L1217.5 323.5 M1216.5 323.5 L1219.5 323.5 M1223.5 317.5 L1223.5 323.5 M1223.5 317.5 L1228.5 317.5 L1229.5 318.5 L1229.5 323.5 M1238.5 323.5 L1233.5 323.5 L1232.5 322.5 L1232.5 318.5 L1233.5 317.5 L1238.5 317.5 L1238.5 325.5 L1237.5 326.5 L1234.5 326.5" stroke="#a5a5a5" stroke-width="1" fill="none" stroke-linecap="square" stroke-linejoin="miter" stroke-miterlimit="2"/>
<path d="M890.5 330.5 L896.5 334.5 L890.5 339.5 M900.5 333.5 L903.5 330.5 L903.5 339.5 M900.5 339.5 L906.5 339.5 M910.5 339.5 L910.5 330.5 L913.5 333.5 L916.5 330.5 L916.5 339.5 M919.5 330.5 L919.5 339.5 M925.5 330.5 L925.5 339.5 M919.5 334.5 L925.5 334.5 M929.5 333.5 L935.5 333.5 L929.5 339.5 L935.5 339.5 M949.5 333.5 L953.5 333.5 L954.5 334.5 L954.5 338.5 L953.5 339.5 L949.5 339.5 L948.5 338.5 L948.5 334.5 L949.5 333.5 M958.5 333.5 L958.5 339.5 M958.5 335.5 L960.5 333.5 L963.5 333.5 M982.5 333.5 L977.5 333.5 L976.5 334.5 L976.5 335.5 L977.5 336.5 L981.5 336.5 L982.5 337.5 L982.5 338.5 L981.5 339.5 L976.5 339.5 M987.5 333.5 L991.5 333.5 L992.5 334.5 L992.5 338.5 L991.5 339.5 L987.5 339.5 L986.5 338.5 L986.5 334.5 L987.5 333.5 M995.5 338.5 L996.5 338.5 L996.5 339.5 L995.5 339.5 L995.5 338.5" stroke="#a5a5a5" stroke-width="1" fill="none" stroke-linecap="square" stroke-linejoin="miter" stroke-miterlimit="2"/>
<rect x="4" y="3" width="1538" height="1057" stroke="#a54b4b" stroke-width="2" fill="none"/>
<rect x="27.5" y="25.5" width="1493" height="1013" stroke="#a54b4b" stroke-width="1" fill="none"/>
<line x1="275.5" y1="4.5" x2="275.5" y2="25.5" stroke="#a54b4b" stroke-width="1" stroke-linecap="butt"/>
<line x1="275.5" y1="1038.5" x2="275.5" y2="1059.5" stroke="#a54b4b" stroke-width="1" stroke-linecap="butt"/>
<line x1="524.5" y1="4.5" x2="524.5" y2="25.5" stroke="#a54b4b" stroke-width="1" stroke-linecap="butt"/>
<line x1="524.5" y1="1038.5" x2="524.5" y2="1059.5" stroke="#a54b4b" stroke-width="1" stroke-linecap="butt"/>
<line x1="773.5" y1="4.5" x2="773.5" y2="25.5" stroke="#a54b4b" stroke-width="1" stroke-linecap="butt"/>
<line x1="773.5" y1="1038.5" x2="773.5" y2="1059.5" stroke="#a54b4b" stroke-width="1" stroke-linecap="butt"/>
<line x1="1022.5" y1="4.5" x2="1022.5" y2="25.5" stroke="#a54b4b" stroke-width="1" stroke-linecap="butt"/>
<line x1="1022.5" y1="1038.5" x2="1022.5" y2="1059.5" stroke="#a54b4b" stroke-width="1" stroke-linecap="butt"/>
<line x1="1271.5" y1="4.5" x2="1271.5" y2="25.5" stroke="#a54b4b" stroke-width="1" stroke-linecap="butt"/>
<line x1="1271.5" y1="1038.5" x2="1271.5" y2="1059.5" stroke="#a54b4b" stroke-width="1" stroke-linecap="butt"/>
<line x1="5.5" y1="278.5" x2="27.5" y2="278.5" stroke="#a54b4b" stroke-width="1" stroke-linecap="butt"/>
<line x1="1520.5" y1="278.5" x2="1541.5" y2="278.5" stroke="#a54b4b" stroke-width="1" stroke-linecap="butt"/>
<line x1="5.5" y1="531.5" x2="27.5" y2="531.5" stroke="#a54b4b" stroke-width="1" stroke-linecap="butt"/>
<line x1="1520.5" y1="531.5" x2="1541.5" y2="531.5" stroke="#a54b4b" stroke-width="1" stroke-linecap="butt"/>
<line x1="5.5" y1="784.5" x2="27.5" y2="784.5" stroke="#a54b4b" stroke-width="1" stroke-linecap="butt"/>
<line x1="1520.5" y1="784.5" x2="1541.5" y2="784.5" stroke="#a54b4b" stroke-width="1" stroke-linecap="butt"/>
<line x1="796" y1="841" x2="1520" y2="841" stroke="#a54b4b" stroke-width="4" stroke-linecap="butt"/>
<line x1="796" y1="1036" x2="1520" y2="1036" stroke="#a54b4b" stroke-width="4" stroke-linecap="butt"/>
<line x1="798" y1="839" x2="798" y2="1038" stroke="#a54b4b" stroke-width="4" stroke-linecap="butt"/>
<line x1="1518" y1="839" x2="1518" y2="1038" stroke="#a54b4b" stroke-width="4" stroke-linecap="butt"/>
<line x1="918" y1="841" x2="918" y2="1036" stroke="#a54b4b" stroke-width="2" stroke-linecap="butt"/>
<line x1="798" y1="878" x2="1518" y2="878" stroke="#a54b4b" stroke-width="2" stroke-linecap="butt"/>
<line x1="1424" y1="841" x2="1424" y2="878" stroke="#a54b4b" stroke-width="2" stroke-linecap="butt"/>
<line x1="1450" y1="878" x2="1450" y2="946" stroke="#a54b4b" stroke-width="2" stroke-linecap="butt"/>
<line x1="918" y1="946" x2="1518" y2="946" stroke="#a54b4b" stroke-width="2" stroke-linecap="butt"/>
<line x1="798" y1="931" x2="918" y2="931" stroke="#a54b4b" stroke-width="2" stroke-linecap="butt"/>
<line x1="798" y1="983" x2="918" y2="983" stroke="#a54b4b" stroke-width="2" stroke-linecap="butt"/>
<line x1="1323" y1="946" x2="1323" y2="1006" stroke="#a54b4b" stroke-width="2" stroke-linecap="butt"/>
<line x1="918" y1="1006" x2="1518" y2="1006" stroke="#a54b4b" stroke-width="2" stroke-linecap="butt"/>
<line x1="1364" y1="1006" x2="1364" y2="1036" stroke="#a54b4b" stroke-width="2" stroke-linecap="butt"/>
<circle cx="1429.6" cy="820.4" r="14.8" stroke="#a54b4b" stroke-width="1.4" fill="none"/>
<circle cx="1429.6" cy="820.4" r="10.8" stroke="#a54b4b" stroke-width="1.4" fill="none"/>
<circle cx="1460.5" cy="820.4" r="14.8" stroke="#a54b4b" stroke-width="1.4" fill="none"/>
<circle cx="1460.5" cy="820.4" r="10.8" stroke="#a54b4b" stroke-width="1.4" fill="none"/>
<path d="M1497 823.38 L1492.78 827.6 L1486.82 827.6 L1482.6 823.38 L1482.6 817.42 L1486.82 813.2 L1492.78 813.2 L1497 817.42Z" stroke="#a54b4b" stroke-width="2.3" fill="none" stroke-linejoin="miter"/>
<line x1="1486" y1="816" x2="1494" y2="825" stroke="#a54b4b" stroke-width="2" stroke-linecap="butt"/>
<line x1="1486" y1="825" x2="1494" y2="816" stroke="#a54b4b" stroke-width="2" stroke-linecap="butt"/>
<path d="M1512.2 823.38 L1507.98 827.6 L1502.02 827.6 L1497.8 823.38 L1497.8 817.42 L1502.02 813.2 L1507.98 813.2 L1512.2 817.42Z" stroke="#a54b4b" stroke-width="2.3" fill="none" stroke-linejoin="miter"/>
<line x1="1501" y1="816" x2="1509" y2="825" stroke="#a54b4b" stroke-width="2" stroke-linecap="butt"/>
<line x1="1501" y1="825" x2="1509" y2="816" stroke="#a54b4b" stroke-width="2" stroke-linecap="butt"/>
<path d="M1453.2 862.8 L1448.4 867.6 L1441.6 867.6 L1436.8 862.8 L1436.8 856 L1441.6 851.2 L1448.4 851.2 L1453.2 856Z" stroke="#a54b4b" stroke-width="1.6" fill="none" stroke-linejoin="miter"/>
<rect x="402.5" y="400.5" width="45" height="119" stroke="#a54b4b" stroke-width="3" fill="none"/>
<path d="M439.3 417.99 L435.79 421.5 L430.81 421.5 L427.3 417.99 L427.3 413.01 L430.81 409.5 L435.79 409.5 L439.3 413.01Z" stroke="#a54b4b" stroke-width="1" fill="none" stroke-linejoin="miter"/>
<path d="M439.3 432.99 L435.79 436.5 L430.81 436.5 L427.3 432.99 L427.3 428.01 L430.81 424.5 L435.79 424.5 L439.3 428.01Z" stroke="#a54b4b" stroke-width="1" fill="none" stroke-linejoin="miter"/>
<path d="M439.3 447.99 L435.79 451.5 L430.81 451.5 L427.3 447.99 L427.3 443.01 L430.81 439.5 L435.79 439.5 L439.3 443.01Z" stroke="#a54b4b" stroke-width="1" fill="none" stroke-linejoin="miter"/>
<path d="M439.3 462.99 L435.79 466.5 L430.81 466.5 L427.3 462.99 L427.3 458.01 L430.81 454.5 L435.79 454.5 L439.3 458.01Z" stroke="#a54b4b" stroke-width="1" fill="none" stroke-linejoin="miter"/>
<path d="M439.3 477.99 L435.79 481.5 L430.81 481.5 L427.3 477.99 L427.3 473.01 L430.81 469.5 L435.79 469.5 L439.3 473.01Z" stroke="#a54b4b" stroke-width="1" fill="none" stroke-linejoin="miter"/>
<path d="M439.3 492.99 L435.79 496.5 L430.81 496.5 L427.3 492.99 L427.3 488.01 L430.81 484.5 L435.79 484.5 L439.3 488.01Z" stroke="#a54b4b" stroke-width="1" fill="none" stroke-linejoin="miter"/>
<path d="M439.3 507.99 L435.79 511.5 L430.81 511.5 L427.3 507.99 L427.3 503.01 L430.81 499.5 L435.79 499.5 L439.3 503.01Z" stroke="#a54b4b" stroke-width="1" fill="none" stroke-linejoin="miter"/>
<path d="M372.2 392.7 L379.5 385.3 L386.8 392.7" stroke="#a54b4b" stroke-width="2.2" fill="none" stroke-linecap="round" stroke-linejoin="round"/>
<line x1="379.5" y1="385.5" x2="379.5" y2="400.5" stroke="#a54b4b" stroke-width="1" stroke-linecap="butt"/>
<line x1="379.5" y1="400.5" x2="379.5" y2="415.5" stroke="#4ba54b" stroke-width="1" stroke-linecap="butt"/>
<line x1="379.5" y1="415.5" x2="425.5" y2="415.5" stroke="#4ba54b" stroke-width="1" stroke-linecap="butt"/>
<line x1="379" y1="423" x2="379" y2="438" stroke="#a54b4b" stroke-width="2" stroke-linecap="round"/>
<line x1="379.5" y1="430.5" x2="394.5" y2="430.5" stroke="#a54b4b" stroke-width="1" stroke-linecap="butt"/>
<line x1="394.5" y1="430.5" x2="425.5" y2="430.5" stroke="#4ba54b" stroke-width="1" stroke-linecap="butt"/>
<line x1="289.5" y1="445.5" x2="425.5" y2="445.5" stroke="#4ba54b" stroke-width="1" stroke-linecap="butt"/>
<line x1="289.5" y1="460.5" x2="425.5" y2="460.5" stroke="#4ba54b" stroke-width="1" stroke-linecap="butt"/>
<line x1="289.5" y1="475.5" x2="425.5" y2="475.5" stroke="#4ba54b" stroke-width="1" stroke-linecap="butt"/>
<line x1="289.5" y1="490.5" x2="425.5" y2="490.5" stroke="#4ba54b" stroke-width="1" stroke-linecap="butt"/>
<line x1="289.5" y1="505.5" x2="425.5" y2="505.5" stroke="#4ba54b" stroke-width="1" stroke-linecap="butt"/>
<line x1="425.5" y1="415.5" x2="427.5" y2="415.5" stroke="#a54b4b" stroke-width="1" stroke-linecap="butt"/>
<line x1="425.5" y1="430.5" x2="427.5" y2="430.5" stroke="#a54b4b" stroke-width="1" stroke-linecap="butt"/>
<line x1="425.5" y1="445.5" x2="427.5" y2="445.5" stroke="#a54b4b" stroke-width="1" stroke-linecap="butt"/>
<line x1="425.5" y1="460.5" x2="427.5" y2="460.5" stroke="#a54b4b" stroke-width="1" stroke-linecap="butt"/>
<line x1="425.5" y1="475.5" x2="427.5" y2="475.5" stroke="#a54b4b" stroke-width="1" stroke-linecap="butt"/>
<line x1="425.5" y1="490.5" x2="427.5" y2="490.5" stroke="#a54b4b" stroke-width="1" stroke-linecap="butt"/>
<line x1="425.5" y1="505.5" x2="427.5" y2="505.5" stroke="#a54b4b" stroke-width="1" stroke-linecap="butt"/>
<rect x="679" y="340" width="150" height="180" stroke="#a54b4b" stroke-width="2" fill="none"/>
<line x1="677.9" y1="370" x2="829.5" y2="370" stroke="#a54b4b" stroke-width="2" stroke-dasharray="7.8 4.2"/>
<line x1="677.9" y1="490" x2="829.5" y2="490" stroke="#a54b4b" stroke-width="2" stroke-dasharray="7.8 4.2"/>
<line x1="665.5" y1="385.5" x2="679.5" y2="385.5" stroke="#a54b4b" stroke-width="1" stroke-linecap="butt"/>
<line x1="665.5" y1="400.5" x2="679.5" y2="400.5" stroke="#a54b4b" stroke-width="1" stroke-linecap="butt"/>
<line x1="665.5" y1="415.5" x2="679.5" y2="415.5" stroke="#a54b4b" stroke-width="1" stroke-linecap="butt"/>
<line x1="665.5" y1="430.5" x2="679.5" y2="430.5" stroke="#a54b4b" stroke-width="1" stroke-linecap="butt"/>
<line x1="665.5" y1="460.5" x2="679.5" y2="460.5" stroke="#a54b4b" stroke-width="1" stroke-linecap="butt"/>
<line x1="665.5" y1="475.5" x2="679.5" y2="475.5" stroke="#a54b4b" stroke-width="1" stroke-linecap="butt"/>
<line x1="574.5" y1="385.5" x2="665.5" y2="385.5" stroke="#4ba54b" stroke-width="1" stroke-linecap="butt"/>
<line x1="574.5" y1="400.5" x2="665.5" y2="400.5" stroke="#4ba54b" stroke-width="1" stroke-linecap="butt"/>
<line x1="574.5" y1="415.5" x2="665.5" y2="415.5" stroke="#4ba54b" stroke-width="1" stroke-linecap="butt"/>
<line x1="574.5" y1="430.5" x2="665.5" y2="430.5" stroke="#4ba54b" stroke-width="1" stroke-linecap="butt"/>
<line x1="559.5" y1="460.5" x2="665.5" y2="460.5" stroke="#4ba54b" stroke-width="1" stroke-linecap="butt"/>
<line x1="649.5" y1="475.5" x2="665.5" y2="475.5" stroke="#4ba54b" stroke-width="1" stroke-linecap="butt"/>
<line x1="693.5" y1="379.5" x2="751.5" y2="379.5" stroke="#a5a5a5" stroke-width="1" stroke-linecap="butt"/>
<line x1="829.5" y1="385.5" x2="844.5" y2="385.5" stroke="#a54b4b" stroke-width="1" stroke-linecap="butt"/>
<line x1="829.5" y1="430.5" x2="844.5" y2="430.5" stroke="#a54b4b" stroke-width="1" stroke-linecap="butt"/>
<line x1="829.5" y1="475.5" x2="844.5" y2="475.5" stroke="#a54b4b" stroke-width="1" stroke-linecap="butt"/>
<line x1="844.5" y1="475.5" x2="889.5" y2="475.5" stroke="#4ba54b" stroke-width="1" stroke-linecap="butt"/>
<path d="M642.2 287.9 L649.5 280.5 L656.8 287.9" stroke="#a54b4b" stroke-width="2.2" fill="none" stroke-linecap="round" stroke-linejoin="round"/>
<line x1="649.5" y1="280.5" x2="649.5" y2="295.5" stroke="#a54b4b" stroke-width="1" stroke-linecap="butt"/>
<line x1="649.5" y1="295.5" x2="649.5" y2="310.5" stroke="#4ba54b" stroke-width="1" stroke-linecap="butt"/>
<line x1="649.5" y1="310.5" x2="649.5" y2="326.5" stroke="#a54b4b" stroke-width="1" stroke-linecap="butt"/>
<rect x="642" y="325" width="15" height="30" stroke="#a54b4b" stroke-width="2" fill="none"/>
<line x1="649.5" y1="355.5" x2="649.5" y2="370.5" stroke="#a54b4b" stroke-width="1" stroke-linecap="butt"/>
<line x1="649.5" y1="370.5" x2="649.5" y2="385.5" stroke="#4ba54b" stroke-width="1" stroke-linecap="butt"/>
<path d="M552.2 437.4 L559.5 430 L566.8 437.4" stroke="#a54b4b" stroke-width="2.2" fill="none" stroke-linecap="round" stroke-linejoin="round"/>
<line x1="559.5" y1="430.5" x2="559.5" y2="445.5" stroke="#a54b4b" stroke-width="1" stroke-linecap="butt"/>
<line x1="559.5" y1="445.5" x2="559.5" y2="475.5" stroke="#4ba54b" stroke-width="1" stroke-linecap="butt"/>
<line x1="559.5" y1="475.5" x2="559.5" y2="495.5" stroke="#a54b4b" stroke-width="1" stroke-linecap="butt"/>
<line x1="551" y1="495.5" x2="568" y2="495.5" stroke="#a54b4b" stroke-width="3" stroke-linecap="butt"/>
<line x1="551" y1="501.5" x2="568" y2="501.5" stroke="#a54b4b" stroke-width="3" stroke-linecap="butt"/>
<line x1="559.5" y1="501.5" x2="559.5" y2="520.5" stroke="#a54b4b" stroke-width="1" stroke-linecap="butt"/>
<line x1="559.5" y1="520.5" x2="559.5" y2="536.5" stroke="#4ba54b" stroke-width="1" stroke-linecap="butt"/>
<line x1="559.5" y1="536.5" x2="559.5" y2="550.5" stroke="#a54b4b" stroke-width="1" stroke-linecap="butt"/>
<line x1="552" y1="550" x2="567" y2="550" stroke="#a54b4b" stroke-width="2" stroke-linecap="round"/>
<line x1="604.5" y1="460.5" x2="604.5" y2="475.5" stroke="#4ba54b" stroke-width="1" stroke-linecap="butt"/>
<line x1="604.5" y1="475.5" x2="604.5" y2="495.5" stroke="#a54b4b" stroke-width="1" stroke-linecap="butt"/>
<line x1="596" y1="495.5" x2="613" y2="495.5" stroke="#a54b4b" stroke-width="3" stroke-linecap="butt"/>
<line x1="596" y1="501.5" x2="613" y2="501.5" stroke="#a54b4b" stroke-width="3" stroke-linecap="butt"/>
<line x1="604.5" y1="501.5" x2="604.5" y2="520.5" stroke="#a54b4b" stroke-width="1" stroke-linecap="butt"/>
<line x1="604.5" y1="520.5" x2="604.5" y2="536.5" stroke="#4ba54b" stroke-width="1" stroke-linecap="butt"/>
<line x1="604.5" y1="536.5" x2="604.5" y2="550.5" stroke="#a54b4b" stroke-width="1" stroke-linecap="butt"/>
<line x1="597" y1="550" x2="612" y2="550" stroke="#a54b4b" stroke-width="2" stroke-linecap="round"/>
<line x1="649.5" y1="475.5" x2="649.5" y2="536.5" stroke="#4ba54b" stroke-width="1" stroke-linecap="butt"/>
<line x1="649.5" y1="536.5" x2="649.5" y2="550.5" stroke="#a54b4b" stroke-width="1" stroke-linecap="butt"/>
<line x1="642" y1="550" x2="657" y2="550" stroke="#a54b4b" stroke-width="2" stroke-linecap="round"/>
<line x1="844.5" y1="385.5" x2="859.5" y2="385.5" stroke="#4ba54b" stroke-width="1" stroke-linecap="butt"/>
<line x1="859.5" y1="385.5" x2="889.5" y2="385.5" stroke="#a54b4b" stroke-width="1" stroke-linecap="butt"/>
<rect x="867.55" y="379.45" width="14.9" height="12.1" stroke="#a54b4b" stroke-width="2.9" fill="none"/>
<line x1="844.5" y1="430.5" x2="859.5" y2="430.5" stroke="#4ba54b" stroke-width="1" stroke-linecap="butt"/>
<line x1="859.5" y1="430.5" x2="889.5" y2="430.5" stroke="#a54b4b" stroke-width="1" stroke-linecap="butt"/>
<rect x="867.55" y="424.45" width="14.9" height="12.1" stroke="#a54b4b" stroke-width="2.9" fill="none"/>
<line x1="889.5" y1="385.5" x2="1039.5" y2="385.5" stroke="#4ba54b" stroke-width="1" stroke-linecap="butt"/>
<line x1="889.5" y1="430.5" x2="1039.5" y2="430.5" stroke="#4ba54b" stroke-width="1" stroke-linecap="butt"/>
<line x1="949.5" y1="430.5" x2="949.5" y2="460.5" stroke="#4ba54b" stroke-width="1" stroke-linecap="butt"/>
<line x1="949.5" y1="460.5" x2="949.5" y2="480.5" stroke="#a54b4b" stroke-width="1" stroke-linecap="butt"/>
<line x1="941" y1="480.5" x2="958" y2="480.5" stroke="#a54b4b" stroke-width="3" stroke-linecap="butt"/>
<line x1="941" y1="486.5" x2="958" y2="486.5" stroke="#a54b4b" stroke-width="3" stroke-linecap="butt"/>
<line x1="949.5" y1="486.5" x2="949.5" y2="505.5" stroke="#a54b4b" stroke-width="1" stroke-linecap="butt"/>
<line x1="949.5" y1="505.5" x2="949.5" y2="580.5" stroke="#4ba54b" stroke-width="1" stroke-linecap="butt"/>
<line x1="949.5" y1="580.5" x2="949.5" y2="595.5" stroke="#a54b4b" stroke-width="1" stroke-linecap="butt"/>
<line x1="942" y1="595" x2="957" y2="595" stroke="#a54b4b" stroke-width="2" stroke-linecap="round"/>
<line x1="994.5" y1="385.5" x2="994.5" y2="460.5" stroke="#4ba54b" stroke-width="1" stroke-linecap="butt"/>
<line x1="994.5" y1="460.5" x2="994.5" y2="480.5" stroke="#a54b4b" stroke-width="1" stroke-linecap="butt"/>
<line x1="986" y1="480.5" x2="1003" y2="480.5" stroke="#a54b4b" stroke-width="3" stroke-linecap="butt"/>
<line x1="986" y1="486.5" x2="1003" y2="486.5" stroke="#a54b4b" stroke-width="3" stroke-linecap="butt"/>
<line x1="994.5" y1="486.5" x2="994.5" y2="505.5" stroke="#a54b4b" stroke-width="1" stroke-linecap="butt"/>
<line x1="994.5" y1="505.5" x2="994.5" y2="580.5" stroke="#4ba54b" stroke-width="1" stroke-linecap="butt"/>
<line x1="994.5" y1="580.5" x2="994.5" y2="595.5" stroke="#a54b4b" stroke-width="1" stroke-linecap="butt"/>
<line x1="987" y1="595" x2="1002" y2="595" stroke="#a54b4b" stroke-width="2" stroke-linecap="round"/>
<path d="M1039.5 385.5 L1039.5 370.5 L1130.5 370.5 L1130.5 400.5 L1115.2 400.5" stroke="#4ba54b" stroke-width="1" fill="none" stroke-linecap="butt" stroke-linejoin="round"/>
<path d="M1039.5 430.5 L1039.5 445.5 L1130.5 445.5 L1130.5 415.5 L1115.2 415.5" stroke="#4ba54b" stroke-width="1" fill="none" stroke-linecap="butt" stroke-linejoin="round"/>
<line x1="1085.5" y1="400.5" x2="1115.5" y2="400.5" stroke="#a54b4b" stroke-width="1" stroke-linecap="butt"/>
<line x1="1085.5" y1="415.5" x2="1115.5" y2="415.5" stroke="#a54b4b" stroke-width="1" stroke-linecap="butt"/>
<rect x="1054" y="385" width="46" height="45" stroke="#a54b4b" stroke-width="2" fill="none"/>
<path d="M648 382 L651 382 L653 384 L653 387 L651 389 L648 389 L646 387 L646 384Z" fill="#4ba54b"/>
<path d="M603 457 L606 457 L608 459 L608 462 L606 464 L603 464 L601 462 L601 459Z" fill="#4ba54b"/>
<path d="M558 457 L561 457 L563 459 L563 462 L561 464 L558 464 L556 462 L556 459Z" fill="#4ba54b"/>
<path d="M993 382 L996 382 L998 384 L998 387 L996 389 L993 389 L991 387 L991 384Z" fill="#4ba54b"/>
<path d="M948 427 L951 427 L953 429 L953 432 L951 434 L948 434 L946 432 L946 429Z" fill="#4ba54b"/>
</svg>
</body></html>
